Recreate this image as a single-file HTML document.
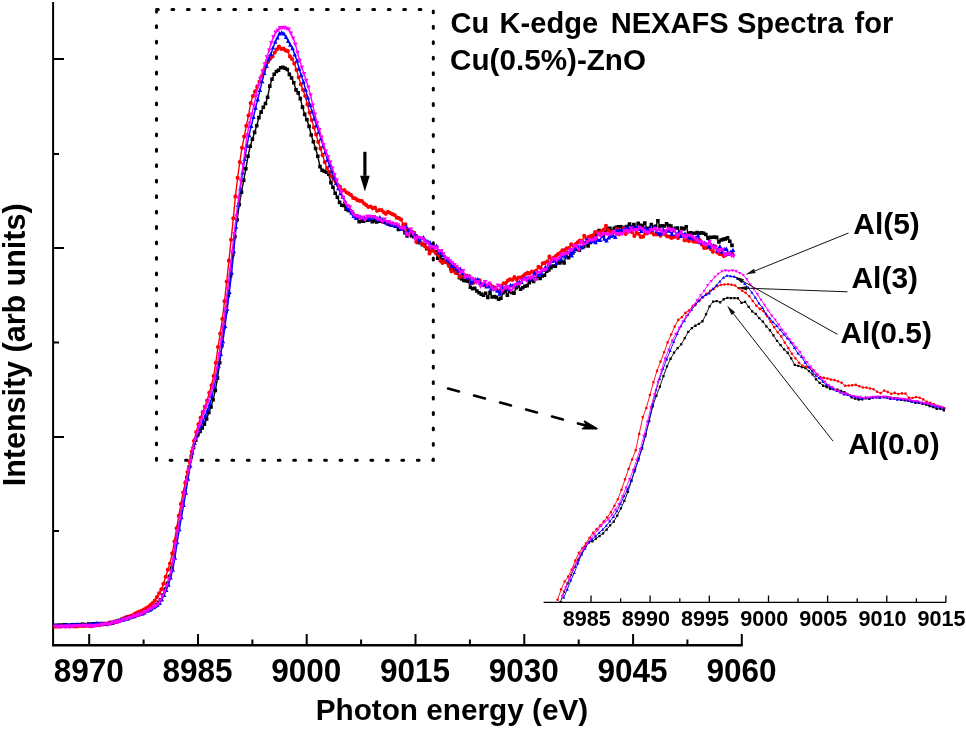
<!DOCTYPE html>
<html><head><meta charset="utf-8"><title>Cu K-edge NEXAFS Spectra</title>
<style>
html,body{margin:0;padding:0;background:#fff;}
body{width:966px;height:730px;overflow:hidden;}
svg{display:block;}
text{font-family:"Liberation Sans",Arial,Helvetica,sans-serif;font-weight:bold;fill:#000;}
</style></head><body>
<svg width="966" height="730" viewBox="0 0 966 730">
<rect width="966" height="730" fill="#fff"/>
<path d="M156.5 9.6H433.3V460.2H156.5V11.4" fill="none" stroke="#000" stroke-width="3" stroke-linecap="round" stroke-dasharray="1.8 13.65"/>
<g stroke="#000" stroke-width="2" fill="none">
<path d="M53.1 2V646"/><path d="M52 645.2H742.8" stroke-width="2.4"/>
<path d="M89.2 645v-11M198 645v-11M306.7 645v-11M415.5 645v-11M524.3 645v-11M633.1 645v-11M741.8 645v-11M143.6 645v-5.5M252.4 645v-5.5M361.1 645v-5.5M469.9 645v-5.5M578.7 645v-5.5M687.4 645v-5.5M53 59h11M53 154h6M53 248h11M53 342.5h6M53 437h11M53 531h6M53 626h11"/>
</g>
<g id="main">
<polyline points="54,625.5 56.2,625.5 58.4,625.3 60.5,625 62.7,625.1 64.9,624.9 67.1,625.1 69.3,625.5 71.4,624.9 73.6,624.8 75.8,625 78,624.9 80.2,624.8 82.3,624.4 84.5,624.6 86.7,624.8 88.9,624.1 91.1,624.3 93.2,623.7 95.4,623.8 97.6,623.6 99.8,624 102,623.6 104.1,623.9 106.3,623.8 108.5,623.5 110.7,622.5 112.9,622.6 115,622.2 117.2,621.6 119.4,620.5 121.6,620.2 123.8,619.4 125.9,618.7 128.1,618.6 130.3,617.3 132.5,616.8 134.7,616.3 136.8,615.1 139,614.4 141.2,613.6 143.4,612.7 145.6,611.3 147.7,610.7 149.9,609.9 152.1,607.7 154.3,607 156.5,605 158.6,602.3 160.8,599.7 163,595 165.2,589.1 167.4,583.4 169.5,576.5 171.7,568.1 173.9,554 176.1,539.4 178.3,527.1 180.4,515.2 182.6,502.7 184.8,490.2 187,477.3 189.2,467 191.3,456.6 193.5,447.6 195.7,440.1 197.9,434.7 200.1,431.4 202.2,428 204.4,424.1 206.6,419 208.8,412.5 211,406.9 213.1,399.7 215.3,390.4 217.5,378.1 219.7,362.8 221.9,345.6 224,327.2 226.2,311.5 228.4,295.2 230.6,275.6 232.8,254.6 234.9,236.4 237.1,219.7 239.3,204.5 241.5,192.1 243.7,180.3 245.8,168.8 248,156.3 250.2,146.2 252.4,139.1 254.6,132.4 256.7,125.7 258.9,117.6 261.1,112.1 263.3,107.2 265.5,103.5 267.6,97.3 269.8,86.1 272,79.3 274.2,74.3 276.4,71.5 278.5,70.3 280.7,67.8 282.9,67.4 285.1,68.2 287.3,69.5 289.4,74.4 291.6,78 293.8,82.7 296,89.9 298.2,92.9 300.3,98.6 302.5,107.1 304.7,114.4 306.9,119.7 309.1,126.4 311.2,135 313.4,141.8 315.6,148.5 317.8,156.3 320,166.6 322.1,170.2 324.3,171.2 326.5,172.3 328.7,174.2 330.9,182.6 333,187.2 335.2,193.3 337.4,197.3 339.6,202.4 341.8,205.3 343.9,205.4 346.1,209.1 348.3,210.5 350.5,211 352.7,213.5 354.8,216.2 357,217.8 359.2,221.8 361.4,221 363.6,221.3 365.7,220.3 367.9,220.1 370.1,219.4 372.3,221.7 374.5,220.6 376.6,221.9 378.8,221.3 381,221 383.2,221.9 385.4,222.4 387.5,223.7 389.7,224.1 391.9,224.9 394.1,224.7 396.3,226.1 398.4,229.4 400.6,227.9 402.8,228.6 405,232.6 407.2,236 409.3,232 411.5,235.8 413.7,236.6 415.9,236.1 418.1,242.5 420.2,242.8 422.4,244.7 424.6,244.8 426.8,248.7 429,248.4 431.1,250.7 433.3,250.4 435.5,251.7 437.7,258.2 439.9,256.4 442,259.7 444.2,261 446.4,262.1 448.6,264 450.8,268.2 452.9,268.5 455.1,270.8 457.3,273.2 459.5,277.6 461.7,278.9 463.8,280.5 466,280.7 468.2,281.1 470.4,287.2 472.6,288.8 474.7,288.2 476.9,291 479.1,292.8 481.3,294.1 483.5,295.2 485.6,293.2 487.8,297.4 490,292.6 492.2,297 494.4,296.6 496.5,297.4 498.7,299.2 500.9,298.2 503.1,292.7 505.3,291.1 507.4,295.2 509.6,291.1 511.8,292.4 514,293.2 516.2,287.6 518.3,285.8 520.5,289.3 522.7,287.8 524.9,286.2 527.1,285.6 529.2,282.7 531.4,280.2 533.6,281.5 535.8,278.6 538,275.9 540.1,278.5 542.3,275.9 544.5,275.3 546.7,271.1 548.9,270 551,267.6 553.2,266 555.4,266.2 557.6,262.6 559.8,263 561.9,261.4 564.1,263 566.3,254.9 568.5,257.7 570.7,254.4 572.8,253 575,248.9 577.2,249.4 579.4,250.3 581.6,247.4 583.7,246.5 585.9,244.5 588.1,246 590.3,242.4 592.5,237 594.6,238.5 596.8,234.6 599,230.6 601.2,234.2 603.4,236.2 605.5,232.4 607.7,228.9 609.9,228.2 612.1,231 614.3,228.2 616.4,227.3 618.6,226.8 620.8,226.7 623,228 625.2,227.4 627.3,226.6 629.5,224.1 631.7,227 633.9,224.6 636.1,227.9 638.2,223.3 640.4,225.4 642.6,225.6 644.8,223 647,228.8 649.1,228.3 651.3,224.6 653.5,227 655.7,226.3 657.9,220.7 660,226.2 662.2,225.7 664.4,226 666.6,223.9 668.8,225.6 670.9,226.1 673.1,229.2 675.3,228.2 677.5,228.1 679.7,231.6 681.8,228.1 684,228.9 686.2,226.7 688.4,233.6 690.6,232.9 692.7,233.3 694.9,233.2 697.1,232.6 699.3,233.2 701.5,232.7 703.6,233.3 705.8,234.5 708,238.1 710.2,237.4 712.4,237.2 714.5,237.1 716.7,237.4 718.9,241.9 721.1,240 723.3,239.4 725.4,238.9 727.6,237.9 729.8,241.3 732,245.4" fill="none" stroke="#000" stroke-width="1.4" stroke-linejoin="round"/>
<path d="M52.2 623.7h3.6v3.6h-3.6zM54.4 623.7h3.6v3.6h-3.6zM56.6 623.5h3.6v3.6h-3.6zM58.7 623.2h3.6v3.6h-3.6zM60.9 623.3h3.6v3.6h-3.6zM63.1 623.1h3.6v3.6h-3.6zM65.3 623.3h3.6v3.6h-3.6zM67.5 623.7h3.6v3.6h-3.6zM69.6 623.1h3.6v3.6h-3.6zM71.8 623h3.6v3.6h-3.6zM74 623.2h3.6v3.6h-3.6zM76.2 623.1h3.6v3.6h-3.6zM78.4 623h3.6v3.6h-3.6zM80.5 622.6h3.6v3.6h-3.6zM82.7 622.8h3.6v3.6h-3.6zM84.9 623h3.6v3.6h-3.6zM87.1 622.3h3.6v3.6h-3.6zM89.3 622.5h3.6v3.6h-3.6zM91.4 621.9h3.6v3.6h-3.6zM93.6 622h3.6v3.6h-3.6zM95.8 621.8h3.6v3.6h-3.6zM98 622.2h3.6v3.6h-3.6zM100.2 621.8h3.6v3.6h-3.6zM102.3 622.1h3.6v3.6h-3.6zM104.5 622h3.6v3.6h-3.6zM106.7 621.7h3.6v3.6h-3.6zM108.9 620.7h3.6v3.6h-3.6zM111.1 620.8h3.6v3.6h-3.6zM113.2 620.4h3.6v3.6h-3.6zM115.4 619.8h3.6v3.6h-3.6zM117.6 618.7h3.6v3.6h-3.6zM119.8 618.4h3.6v3.6h-3.6zM122 617.6h3.6v3.6h-3.6zM124.1 616.9h3.6v3.6h-3.6zM126.3 616.8h3.6v3.6h-3.6zM128.5 615.5h3.6v3.6h-3.6zM130.7 615h3.6v3.6h-3.6zM132.9 614.5h3.6v3.6h-3.6zM135 613.3h3.6v3.6h-3.6zM137.2 612.6h3.6v3.6h-3.6zM139.4 611.8h3.6v3.6h-3.6zM141.6 610.9h3.6v3.6h-3.6zM143.8 609.5h3.6v3.6h-3.6zM145.9 608.9h3.6v3.6h-3.6zM148.1 608.1h3.6v3.6h-3.6zM150.3 605.9h3.6v3.6h-3.6zM152.5 605.2h3.6v3.6h-3.6zM154.7 603.2h3.6v3.6h-3.6zM156.8 600.5h3.6v3.6h-3.6zM159 597.9h3.6v3.6h-3.6zM161.2 593.2h3.6v3.6h-3.6zM163.4 587.3h3.6v3.6h-3.6zM165.6 581.6h3.6v3.6h-3.6zM167.7 574.7h3.6v3.6h-3.6zM169.9 566.3h3.6v3.6h-3.6zM172.1 552.2h3.6v3.6h-3.6zM174.3 537.6h3.6v3.6h-3.6zM176.5 525.3h3.6v3.6h-3.6zM178.6 513.4h3.6v3.6h-3.6zM180.8 500.9h3.6v3.6h-3.6zM183 488.4h3.6v3.6h-3.6zM185.2 475.5h3.6v3.6h-3.6zM187.4 465.2h3.6v3.6h-3.6zM189.5 454.8h3.6v3.6h-3.6zM191.7 445.8h3.6v3.6h-3.6zM193.9 438.3h3.6v3.6h-3.6zM196.1 432.9h3.6v3.6h-3.6zM198.3 429.6h3.6v3.6h-3.6zM200.4 426.2h3.6v3.6h-3.6zM202.6 422.3h3.6v3.6h-3.6zM204.8 417.2h3.6v3.6h-3.6zM207 410.7h3.6v3.6h-3.6zM209.2 405.1h3.6v3.6h-3.6zM211.3 397.9h3.6v3.6h-3.6zM213.5 388.6h3.6v3.6h-3.6zM215.7 376.3h3.6v3.6h-3.6zM217.9 361h3.6v3.6h-3.6zM220.1 343.8h3.6v3.6h-3.6zM222.2 325.4h3.6v3.6h-3.6zM224.4 309.7h3.6v3.6h-3.6zM226.6 293.4h3.6v3.6h-3.6zM228.8 273.8h3.6v3.6h-3.6zM231 252.8h3.6v3.6h-3.6zM233.1 234.6h3.6v3.6h-3.6zM235.3 217.9h3.6v3.6h-3.6zM237.5 202.7h3.6v3.6h-3.6zM239.7 190.3h3.6v3.6h-3.6zM241.9 178.5h3.6v3.6h-3.6zM244 167h3.6v3.6h-3.6zM246.2 154.5h3.6v3.6h-3.6zM248.4 144.4h3.6v3.6h-3.6zM250.6 137.3h3.6v3.6h-3.6zM252.8 130.6h3.6v3.6h-3.6zM254.9 123.9h3.6v3.6h-3.6zM257.1 115.8h3.6v3.6h-3.6zM259.3 110.3h3.6v3.6h-3.6zM261.5 105.4h3.6v3.6h-3.6zM263.7 101.7h3.6v3.6h-3.6zM265.8 95.5h3.6v3.6h-3.6zM268 84.3h3.6v3.6h-3.6zM270.2 77.5h3.6v3.6h-3.6zM272.4 72.5h3.6v3.6h-3.6zM274.6 69.7h3.6v3.6h-3.6zM276.7 68.5h3.6v3.6h-3.6zM278.9 66h3.6v3.6h-3.6zM281.1 65.6h3.6v3.6h-3.6zM283.3 66.4h3.6v3.6h-3.6zM285.5 67.7h3.6v3.6h-3.6zM287.6 72.6h3.6v3.6h-3.6zM289.8 76.2h3.6v3.6h-3.6zM292 80.9h3.6v3.6h-3.6zM294.2 88.1h3.6v3.6h-3.6zM296.4 91.1h3.6v3.6h-3.6zM298.5 96.8h3.6v3.6h-3.6zM300.7 105.3h3.6v3.6h-3.6zM302.9 112.6h3.6v3.6h-3.6zM305.1 117.9h3.6v3.6h-3.6zM307.3 124.6h3.6v3.6h-3.6zM309.4 133.2h3.6v3.6h-3.6zM311.6 140h3.6v3.6h-3.6zM313.8 146.7h3.6v3.6h-3.6zM316 154.5h3.6v3.6h-3.6zM318.2 164.8h3.6v3.6h-3.6zM320.3 168.4h3.6v3.6h-3.6zM322.5 169.4h3.6v3.6h-3.6zM324.7 170.5h3.6v3.6h-3.6zM326.9 172.4h3.6v3.6h-3.6zM329.1 180.8h3.6v3.6h-3.6zM331.2 185.4h3.6v3.6h-3.6zM333.4 191.5h3.6v3.6h-3.6zM335.6 195.5h3.6v3.6h-3.6zM337.8 200.6h3.6v3.6h-3.6zM340 203.5h3.6v3.6h-3.6zM342.1 203.6h3.6v3.6h-3.6zM344.3 207.3h3.6v3.6h-3.6zM346.5 208.7h3.6v3.6h-3.6zM348.7 209.2h3.6v3.6h-3.6zM350.9 211.7h3.6v3.6h-3.6zM353 214.4h3.6v3.6h-3.6zM355.2 216h3.6v3.6h-3.6zM357.4 220h3.6v3.6h-3.6zM359.6 219.2h3.6v3.6h-3.6zM361.8 219.5h3.6v3.6h-3.6zM363.9 218.5h3.6v3.6h-3.6zM366.1 218.3h3.6v3.6h-3.6zM368.3 217.6h3.6v3.6h-3.6zM370.5 219.9h3.6v3.6h-3.6zM372.7 218.8h3.6v3.6h-3.6zM374.8 220.1h3.6v3.6h-3.6zM377 219.5h3.6v3.6h-3.6zM379.2 219.2h3.6v3.6h-3.6zM381.4 220.1h3.6v3.6h-3.6zM383.6 220.6h3.6v3.6h-3.6zM385.7 221.9h3.6v3.6h-3.6zM387.9 222.3h3.6v3.6h-3.6zM390.1 223.1h3.6v3.6h-3.6zM392.3 222.9h3.6v3.6h-3.6zM394.5 224.3h3.6v3.6h-3.6zM396.6 227.6h3.6v3.6h-3.6zM398.8 226.1h3.6v3.6h-3.6zM401 226.8h3.6v3.6h-3.6zM403.2 230.8h3.6v3.6h-3.6zM405.4 234.2h3.6v3.6h-3.6zM407.5 230.2h3.6v3.6h-3.6zM409.7 234h3.6v3.6h-3.6zM411.9 234.8h3.6v3.6h-3.6zM414.1 234.3h3.6v3.6h-3.6zM416.3 240.7h3.6v3.6h-3.6zM418.4 241h3.6v3.6h-3.6zM420.6 242.9h3.6v3.6h-3.6zM422.8 243h3.6v3.6h-3.6zM425 246.9h3.6v3.6h-3.6zM427.2 246.6h3.6v3.6h-3.6zM429.3 248.9h3.6v3.6h-3.6zM431.5 248.6h3.6v3.6h-3.6zM433.7 249.9h3.6v3.6h-3.6zM435.9 256.4h3.6v3.6h-3.6zM438.1 254.6h3.6v3.6h-3.6zM440.2 257.9h3.6v3.6h-3.6zM442.4 259.2h3.6v3.6h-3.6zM444.6 260.3h3.6v3.6h-3.6zM446.8 262.2h3.6v3.6h-3.6zM449 266.4h3.6v3.6h-3.6zM451.1 266.7h3.6v3.6h-3.6zM453.3 269h3.6v3.6h-3.6zM455.5 271.4h3.6v3.6h-3.6zM457.7 275.8h3.6v3.6h-3.6zM459.9 277.1h3.6v3.6h-3.6zM462 278.7h3.6v3.6h-3.6zM464.2 278.9h3.6v3.6h-3.6zM466.4 279.3h3.6v3.6h-3.6zM468.6 285.4h3.6v3.6h-3.6zM470.8 287h3.6v3.6h-3.6zM472.9 286.4h3.6v3.6h-3.6zM475.1 289.2h3.6v3.6h-3.6zM477.3 291h3.6v3.6h-3.6zM479.5 292.3h3.6v3.6h-3.6zM481.7 293.4h3.6v3.6h-3.6zM483.8 291.4h3.6v3.6h-3.6zM486 295.6h3.6v3.6h-3.6zM488.2 290.8h3.6v3.6h-3.6zM490.4 295.2h3.6v3.6h-3.6zM492.6 294.8h3.6v3.6h-3.6zM494.7 295.6h3.6v3.6h-3.6zM496.9 297.4h3.6v3.6h-3.6zM499.1 296.4h3.6v3.6h-3.6zM501.3 290.9h3.6v3.6h-3.6zM503.5 289.3h3.6v3.6h-3.6zM505.6 293.4h3.6v3.6h-3.6zM507.8 289.3h3.6v3.6h-3.6zM510 290.6h3.6v3.6h-3.6zM512.2 291.4h3.6v3.6h-3.6zM514.4 285.8h3.6v3.6h-3.6zM516.5 284h3.6v3.6h-3.6zM518.7 287.5h3.6v3.6h-3.6zM520.9 286h3.6v3.6h-3.6zM523.1 284.4h3.6v3.6h-3.6zM525.3 283.8h3.6v3.6h-3.6zM527.4 280.9h3.6v3.6h-3.6zM529.6 278.4h3.6v3.6h-3.6zM531.8 279.7h3.6v3.6h-3.6zM534 276.8h3.6v3.6h-3.6zM536.2 274.1h3.6v3.6h-3.6zM538.3 276.7h3.6v3.6h-3.6zM540.5 274.1h3.6v3.6h-3.6zM542.7 273.5h3.6v3.6h-3.6zM544.9 269.3h3.6v3.6h-3.6zM547.1 268.2h3.6v3.6h-3.6zM549.2 265.8h3.6v3.6h-3.6zM551.4 264.2h3.6v3.6h-3.6zM553.6 264.4h3.6v3.6h-3.6zM555.8 260.8h3.6v3.6h-3.6zM558 261.2h3.6v3.6h-3.6zM560.1 259.6h3.6v3.6h-3.6zM562.3 261.2h3.6v3.6h-3.6zM564.5 253.1h3.6v3.6h-3.6zM566.7 255.9h3.6v3.6h-3.6zM568.9 252.6h3.6v3.6h-3.6zM571 251.2h3.6v3.6h-3.6zM573.2 247.1h3.6v3.6h-3.6zM575.4 247.6h3.6v3.6h-3.6zM577.6 248.5h3.6v3.6h-3.6zM579.8 245.6h3.6v3.6h-3.6zM581.9 244.7h3.6v3.6h-3.6zM584.1 242.7h3.6v3.6h-3.6zM586.3 244.2h3.6v3.6h-3.6zM588.5 240.6h3.6v3.6h-3.6zM590.7 235.2h3.6v3.6h-3.6zM592.8 236.7h3.6v3.6h-3.6zM595 232.8h3.6v3.6h-3.6zM597.2 228.8h3.6v3.6h-3.6zM599.4 232.4h3.6v3.6h-3.6zM601.6 234.4h3.6v3.6h-3.6zM603.7 230.6h3.6v3.6h-3.6zM605.9 227.1h3.6v3.6h-3.6zM608.1 226.4h3.6v3.6h-3.6zM610.3 229.2h3.6v3.6h-3.6zM612.5 226.4h3.6v3.6h-3.6zM614.6 225.5h3.6v3.6h-3.6zM616.8 225h3.6v3.6h-3.6zM619 224.9h3.6v3.6h-3.6zM621.2 226.2h3.6v3.6h-3.6zM623.4 225.6h3.6v3.6h-3.6zM625.5 224.8h3.6v3.6h-3.6zM627.7 222.3h3.6v3.6h-3.6zM629.9 225.2h3.6v3.6h-3.6zM632.1 222.8h3.6v3.6h-3.6zM634.3 226.1h3.6v3.6h-3.6zM636.4 221.5h3.6v3.6h-3.6zM638.6 223.6h3.6v3.6h-3.6zM640.8 223.8h3.6v3.6h-3.6zM643 221.2h3.6v3.6h-3.6zM645.2 227h3.6v3.6h-3.6zM647.3 226.5h3.6v3.6h-3.6zM649.5 222.8h3.6v3.6h-3.6zM651.7 225.2h3.6v3.6h-3.6zM653.9 224.5h3.6v3.6h-3.6zM656.1 218.9h3.6v3.6h-3.6zM658.2 224.4h3.6v3.6h-3.6zM660.4 223.9h3.6v3.6h-3.6zM662.6 224.2h3.6v3.6h-3.6zM664.8 222.1h3.6v3.6h-3.6zM667 223.8h3.6v3.6h-3.6zM669.1 224.3h3.6v3.6h-3.6zM671.3 227.4h3.6v3.6h-3.6zM673.5 226.4h3.6v3.6h-3.6zM675.7 226.3h3.6v3.6h-3.6zM677.9 229.8h3.6v3.6h-3.6zM680 226.3h3.6v3.6h-3.6zM682.2 227.1h3.6v3.6h-3.6zM684.4 224.9h3.6v3.6h-3.6zM686.6 231.8h3.6v3.6h-3.6zM688.8 231.1h3.6v3.6h-3.6zM690.9 231.5h3.6v3.6h-3.6zM693.1 231.4h3.6v3.6h-3.6zM695.3 230.8h3.6v3.6h-3.6zM697.5 231.4h3.6v3.6h-3.6zM699.7 230.9h3.6v3.6h-3.6zM701.8 231.5h3.6v3.6h-3.6zM704 232.7h3.6v3.6h-3.6zM706.2 236.3h3.6v3.6h-3.6zM708.4 235.6h3.6v3.6h-3.6zM710.6 235.4h3.6v3.6h-3.6zM712.7 235.3h3.6v3.6h-3.6zM714.9 235.6h3.6v3.6h-3.6zM717.1 240.1h3.6v3.6h-3.6zM719.3 238.2h3.6v3.6h-3.6zM721.5 237.6h3.6v3.6h-3.6zM723.6 237.1h3.6v3.6h-3.6zM725.8 236.1h3.6v3.6h-3.6zM728 239.5h3.6v3.6h-3.6zM730.2 243.6h3.6v3.6h-3.6z" fill="#000"/>
<polyline points="54.5,626.5 56.7,626.5 58.9,626.4 61,626.5 63.2,625.9 65.4,626.3 67.6,626 69.8,626.5 71.9,625.9 74.1,626.3 76.3,626.5 78.5,625.9 80.7,625.7 82.8,625.9 85,625.8 87.2,625.4 89.4,625.8 91.6,626.2 93.7,625.4 95.9,625.2 98.1,624.8 100.3,625 102.5,624.2 104.6,623.9 106.8,624.3 109,623.2 111.2,623.3 113.4,622.7 115.5,621.5 117.7,620.9 119.9,620.5 122.1,619.1 124.3,618.1 126.4,617 128.6,616.6 130.8,616.1 133,615.1 135.2,613.5 137.3,612.6 139.5,611.7 141.7,610.9 143.9,609.6 146.1,608.4 148.2,607 150.4,605.1 152.6,603.2 154.8,600.7 157,597 159.1,593.3 161.3,589.4 163.5,583.8 165.7,576.8 167.9,569.7 170,563.5 172.2,553.3 174.4,541.5 176.6,528.3 178.8,515.9 180.9,504 183.1,492.7 185.3,482.8 187.5,472.1 189.7,461.7 191.8,451.5 194,441.1 196.2,432.1 198.4,424.3 200.6,417.8 202.7,412.2 204.9,406.7 207.1,400.6 209.3,392.8 211.5,385.4 213.6,376 215.8,362.8 218,347.1 220.2,333.7 222.4,318.9 224.5,301.2 226.7,281.5 228.9,260.7 231.1,239.8 233.3,218.3 235.4,196.4 237.6,177.8 239.8,162 242,147.8 244.2,136.6 246.3,125.9 248.5,115.5 250.7,103.1 252.9,96.1 255.1,91.4 257.2,86.8 259.4,81.8 261.6,76.3 263.8,70.7 266,64.5 268.1,61.8 270.3,58.6 272.5,56.5 274.7,52.6 276.9,49.3 279,46.7 281.2,49 283.4,48.7 285.6,50.4 287.8,51.2 289.9,56.4 292.1,59.1 294.3,63.6 296.5,69.9 298.7,77.3 300.8,84.3 303,89.8 305.2,96.1 307.4,104.3 309.6,112.7 311.7,120.1 313.9,127.4 316.1,134.6 318.3,141.9 320.5,148.6 322.6,155.2 324.8,162.2 327,168.1 329.2,171.8 331.4,176.1 333.5,179.1 335.7,181.8 337.9,185.2 340.1,186.8 342.3,190.6 344.4,190.1 346.6,192.5 348.8,193.6 351,195.1 353.2,197.9 355.3,198.5 357.5,200.2 359.7,200.8 361.9,201.2 364.1,203.5 366.2,205 368.4,207 370.6,206.5 372.8,208.3 375,207.7 377.1,210.8 379.3,210 381.5,210.1 383.7,212.3 385.9,213.8 388,211.9 390.2,213 392.4,214.2 394.6,215 396.8,217.7 398.9,218.2 401.1,219.7 403.3,224.5 405.5,224.4 407.7,229.5 409.8,229.8 412,231.8 414.2,232.8 416.4,241.9 418.6,239.8 420.7,242.8 422.9,244.2 425.1,246.5 427.3,248.1 429.5,253.4 431.6,249.7 433.8,250.5 436,253.5 438.2,254.8 440.4,260.8 442.5,262.9 444.7,261.4 446.9,262.5 449.1,266.2 451.3,271.3 453.4,265 455.6,273 457.8,271.5 460,276.9 462.2,274.2 464.3,276.8 466.5,275.6 468.7,277.6 470.9,283.1 473.1,283 475.2,281.6 477.4,281.5 479.6,280.4 481.8,283.9 484,285.2 486.1,285.7 488.3,286.2 490.5,284.8 492.7,287.2 494.9,287.6 497,290.2 499.2,290.9 501.4,286 503.6,283.3 505.8,283.1 507.9,280.6 510.1,279.4 512.3,279.8 514.5,277.2 516.7,279.7 518.8,277.6 521,277.6 523.2,276 525.4,274.1 527.6,272.8 529.7,273.3 531.9,271.7 534.1,272.2 536.3,270.6 538.5,266.8 540.6,267.9 542.8,263.4 545,262.9 547.2,261.7 549.4,256.7 551.5,259.3 553.7,257.9 555.9,256 558.1,254.1 560.3,252.8 562.4,250.3 564.6,250.2 566.8,248.3 569,248.2 571.2,244.4 573.3,245.8 575.5,244.3 577.7,242.4 579.9,240.6 582.1,241.2 584.2,235.8 586.4,238.7 588.6,237.2 590.8,236.2 593,235.3 595.1,232.2 597.3,232 599.5,232.7 601.7,231.1 603.9,229.6 606,225.8 608.2,230.1 610.4,232.1 612.6,232.7 614.8,231.8 616.9,229 619.1,234.3 621.3,232.6 623.5,228.3 625.7,233.9 627.8,230.5 630,230.9 632.2,232.2 634.4,235.9 636.6,232.8 638.7,234.1 640.9,236.9 643.1,236.7 645.3,233.5 647.5,233.2 649.6,231.3 651.8,232.4 654,234.5 656.2,234.5 658.4,234 660.5,235.7 662.7,232.6 664.9,234.4 667.1,236.3 669.3,236.5 671.4,237.9 673.6,237.1 675.8,236.3 678,238.1 680.2,236.1 682.3,235.5 684.5,240.3 686.7,239.7 688.9,241.1 691.1,238.1 693.2,241.4 695.4,241.7 697.6,242 699.8,240.2 702,244.7 704.1,247.9 706.3,247.8 708.5,246.8 710.7,249.1 712.9,251.8 715,246.3 717.2,252.3 719.4,253.9 721.6,254.2 723.8,256.1 725.9,255 728.1,253.4 730.3,253.3 732.5,254.1" fill="none" stroke="#f00" stroke-width="1.4" stroke-linejoin="round"/>
<path d="M52.4 626.5a2.1 2.1 0 1 0 4.2 0a2.1 2.1 0 1 0 -4.2 0zM54.6 626.5a2.1 2.1 0 1 0 4.2 0a2.1 2.1 0 1 0 -4.2 0zM56.8 626.4a2.1 2.1 0 1 0 4.2 0a2.1 2.1 0 1 0 -4.2 0zM58.9 626.5a2.1 2.1 0 1 0 4.2 0a2.1 2.1 0 1 0 -4.2 0zM61.1 625.9a2.1 2.1 0 1 0 4.2 0a2.1 2.1 0 1 0 -4.2 0zM63.3 626.3a2.1 2.1 0 1 0 4.2 0a2.1 2.1 0 1 0 -4.2 0zM65.5 626a2.1 2.1 0 1 0 4.2 0a2.1 2.1 0 1 0 -4.2 0zM67.7 626.5a2.1 2.1 0 1 0 4.2 0a2.1 2.1 0 1 0 -4.2 0zM69.8 625.9a2.1 2.1 0 1 0 4.2 0a2.1 2.1 0 1 0 -4.2 0zM72 626.3a2.1 2.1 0 1 0 4.2 0a2.1 2.1 0 1 0 -4.2 0zM74.2 626.5a2.1 2.1 0 1 0 4.2 0a2.1 2.1 0 1 0 -4.2 0zM76.4 625.9a2.1 2.1 0 1 0 4.2 0a2.1 2.1 0 1 0 -4.2 0zM78.6 625.7a2.1 2.1 0 1 0 4.2 0a2.1 2.1 0 1 0 -4.2 0zM80.7 625.9a2.1 2.1 0 1 0 4.2 0a2.1 2.1 0 1 0 -4.2 0zM82.9 625.8a2.1 2.1 0 1 0 4.2 0a2.1 2.1 0 1 0 -4.2 0zM85.1 625.4a2.1 2.1 0 1 0 4.2 0a2.1 2.1 0 1 0 -4.2 0zM87.3 625.8a2.1 2.1 0 1 0 4.2 0a2.1 2.1 0 1 0 -4.2 0zM89.5 626.2a2.1 2.1 0 1 0 4.2 0a2.1 2.1 0 1 0 -4.2 0zM91.6 625.4a2.1 2.1 0 1 0 4.2 0a2.1 2.1 0 1 0 -4.2 0zM93.8 625.2a2.1 2.1 0 1 0 4.2 0a2.1 2.1 0 1 0 -4.2 0zM96 624.8a2.1 2.1 0 1 0 4.2 0a2.1 2.1 0 1 0 -4.2 0zM98.2 625a2.1 2.1 0 1 0 4.2 0a2.1 2.1 0 1 0 -4.2 0zM100.4 624.2a2.1 2.1 0 1 0 4.2 0a2.1 2.1 0 1 0 -4.2 0zM102.5 623.9a2.1 2.1 0 1 0 4.2 0a2.1 2.1 0 1 0 -4.2 0zM104.7 624.3a2.1 2.1 0 1 0 4.2 0a2.1 2.1 0 1 0 -4.2 0zM106.9 623.2a2.1 2.1 0 1 0 4.2 0a2.1 2.1 0 1 0 -4.2 0zM109.1 623.3a2.1 2.1 0 1 0 4.2 0a2.1 2.1 0 1 0 -4.2 0zM111.3 622.7a2.1 2.1 0 1 0 4.2 0a2.1 2.1 0 1 0 -4.2 0zM113.4 621.5a2.1 2.1 0 1 0 4.2 0a2.1 2.1 0 1 0 -4.2 0zM115.6 620.9a2.1 2.1 0 1 0 4.2 0a2.1 2.1 0 1 0 -4.2 0zM117.8 620.5a2.1 2.1 0 1 0 4.2 0a2.1 2.1 0 1 0 -4.2 0zM120 619.1a2.1 2.1 0 1 0 4.2 0a2.1 2.1 0 1 0 -4.2 0zM122.2 618.1a2.1 2.1 0 1 0 4.2 0a2.1 2.1 0 1 0 -4.2 0zM124.3 617a2.1 2.1 0 1 0 4.2 0a2.1 2.1 0 1 0 -4.2 0zM126.5 616.6a2.1 2.1 0 1 0 4.2 0a2.1 2.1 0 1 0 -4.2 0zM128.7 616.1a2.1 2.1 0 1 0 4.2 0a2.1 2.1 0 1 0 -4.2 0zM130.9 615.1a2.1 2.1 0 1 0 4.2 0a2.1 2.1 0 1 0 -4.2 0zM133.1 613.5a2.1 2.1 0 1 0 4.2 0a2.1 2.1 0 1 0 -4.2 0zM135.2 612.6a2.1 2.1 0 1 0 4.2 0a2.1 2.1 0 1 0 -4.2 0zM137.4 611.7a2.1 2.1 0 1 0 4.2 0a2.1 2.1 0 1 0 -4.2 0zM139.6 610.9a2.1 2.1 0 1 0 4.2 0a2.1 2.1 0 1 0 -4.2 0zM141.8 609.6a2.1 2.1 0 1 0 4.2 0a2.1 2.1 0 1 0 -4.2 0zM144 608.4a2.1 2.1 0 1 0 4.2 0a2.1 2.1 0 1 0 -4.2 0zM146.1 607a2.1 2.1 0 1 0 4.2 0a2.1 2.1 0 1 0 -4.2 0zM148.3 605.1a2.1 2.1 0 1 0 4.2 0a2.1 2.1 0 1 0 -4.2 0zM150.5 603.2a2.1 2.1 0 1 0 4.2 0a2.1 2.1 0 1 0 -4.2 0zM152.7 600.7a2.1 2.1 0 1 0 4.2 0a2.1 2.1 0 1 0 -4.2 0zM154.9 597a2.1 2.1 0 1 0 4.2 0a2.1 2.1 0 1 0 -4.2 0zM157 593.3a2.1 2.1 0 1 0 4.2 0a2.1 2.1 0 1 0 -4.2 0zM159.2 589.4a2.1 2.1 0 1 0 4.2 0a2.1 2.1 0 1 0 -4.2 0zM161.4 583.8a2.1 2.1 0 1 0 4.2 0a2.1 2.1 0 1 0 -4.2 0zM163.6 576.8a2.1 2.1 0 1 0 4.2 0a2.1 2.1 0 1 0 -4.2 0zM165.8 569.7a2.1 2.1 0 1 0 4.2 0a2.1 2.1 0 1 0 -4.2 0zM167.9 563.5a2.1 2.1 0 1 0 4.2 0a2.1 2.1 0 1 0 -4.2 0zM170.1 553.3a2.1 2.1 0 1 0 4.2 0a2.1 2.1 0 1 0 -4.2 0zM172.3 541.5a2.1 2.1 0 1 0 4.2 0a2.1 2.1 0 1 0 -4.2 0zM174.5 528.3a2.1 2.1 0 1 0 4.2 0a2.1 2.1 0 1 0 -4.2 0zM176.7 515.9a2.1 2.1 0 1 0 4.2 0a2.1 2.1 0 1 0 -4.2 0zM178.8 504a2.1 2.1 0 1 0 4.2 0a2.1 2.1 0 1 0 -4.2 0zM181 492.7a2.1 2.1 0 1 0 4.2 0a2.1 2.1 0 1 0 -4.2 0zM183.2 482.8a2.1 2.1 0 1 0 4.2 0a2.1 2.1 0 1 0 -4.2 0zM185.4 472.1a2.1 2.1 0 1 0 4.2 0a2.1 2.1 0 1 0 -4.2 0zM187.6 461.7a2.1 2.1 0 1 0 4.2 0a2.1 2.1 0 1 0 -4.2 0zM189.7 451.5a2.1 2.1 0 1 0 4.2 0a2.1 2.1 0 1 0 -4.2 0zM191.9 441.1a2.1 2.1 0 1 0 4.2 0a2.1 2.1 0 1 0 -4.2 0zM194.1 432.1a2.1 2.1 0 1 0 4.2 0a2.1 2.1 0 1 0 -4.2 0zM196.3 424.3a2.1 2.1 0 1 0 4.2 0a2.1 2.1 0 1 0 -4.2 0zM198.5 417.8a2.1 2.1 0 1 0 4.2 0a2.1 2.1 0 1 0 -4.2 0zM200.6 412.2a2.1 2.1 0 1 0 4.2 0a2.1 2.1 0 1 0 -4.2 0zM202.8 406.7a2.1 2.1 0 1 0 4.2 0a2.1 2.1 0 1 0 -4.2 0zM205 400.6a2.1 2.1 0 1 0 4.2 0a2.1 2.1 0 1 0 -4.2 0zM207.2 392.8a2.1 2.1 0 1 0 4.2 0a2.1 2.1 0 1 0 -4.2 0zM209.4 385.4a2.1 2.1 0 1 0 4.2 0a2.1 2.1 0 1 0 -4.2 0zM211.5 376a2.1 2.1 0 1 0 4.2 0a2.1 2.1 0 1 0 -4.2 0zM213.7 362.8a2.1 2.1 0 1 0 4.2 0a2.1 2.1 0 1 0 -4.2 0zM215.9 347.1a2.1 2.1 0 1 0 4.2 0a2.1 2.1 0 1 0 -4.2 0zM218.1 333.7a2.1 2.1 0 1 0 4.2 0a2.1 2.1 0 1 0 -4.2 0zM220.3 318.9a2.1 2.1 0 1 0 4.2 0a2.1 2.1 0 1 0 -4.2 0zM222.4 301.2a2.1 2.1 0 1 0 4.2 0a2.1 2.1 0 1 0 -4.2 0zM224.6 281.5a2.1 2.1 0 1 0 4.2 0a2.1 2.1 0 1 0 -4.2 0zM226.8 260.7a2.1 2.1 0 1 0 4.2 0a2.1 2.1 0 1 0 -4.2 0zM229 239.8a2.1 2.1 0 1 0 4.2 0a2.1 2.1 0 1 0 -4.2 0zM231.2 218.3a2.1 2.1 0 1 0 4.2 0a2.1 2.1 0 1 0 -4.2 0zM233.3 196.4a2.1 2.1 0 1 0 4.2 0a2.1 2.1 0 1 0 -4.2 0zM235.5 177.8a2.1 2.1 0 1 0 4.2 0a2.1 2.1 0 1 0 -4.2 0zM237.7 162a2.1 2.1 0 1 0 4.2 0a2.1 2.1 0 1 0 -4.2 0zM239.9 147.8a2.1 2.1 0 1 0 4.2 0a2.1 2.1 0 1 0 -4.2 0zM242.1 136.6a2.1 2.1 0 1 0 4.2 0a2.1 2.1 0 1 0 -4.2 0zM244.2 125.9a2.1 2.1 0 1 0 4.2 0a2.1 2.1 0 1 0 -4.2 0zM246.4 115.5a2.1 2.1 0 1 0 4.2 0a2.1 2.1 0 1 0 -4.2 0zM248.6 103.1a2.1 2.1 0 1 0 4.2 0a2.1 2.1 0 1 0 -4.2 0zM250.8 96.1a2.1 2.1 0 1 0 4.2 0a2.1 2.1 0 1 0 -4.2 0zM253 91.4a2.1 2.1 0 1 0 4.2 0a2.1 2.1 0 1 0 -4.2 0zM255.1 86.8a2.1 2.1 0 1 0 4.2 0a2.1 2.1 0 1 0 -4.2 0zM257.3 81.8a2.1 2.1 0 1 0 4.2 0a2.1 2.1 0 1 0 -4.2 0zM259.5 76.3a2.1 2.1 0 1 0 4.2 0a2.1 2.1 0 1 0 -4.2 0zM261.7 70.7a2.1 2.1 0 1 0 4.2 0a2.1 2.1 0 1 0 -4.2 0zM263.9 64.5a2.1 2.1 0 1 0 4.2 0a2.1 2.1 0 1 0 -4.2 0zM266 61.8a2.1 2.1 0 1 0 4.2 0a2.1 2.1 0 1 0 -4.2 0zM268.2 58.6a2.1 2.1 0 1 0 4.2 0a2.1 2.1 0 1 0 -4.2 0zM270.4 56.5a2.1 2.1 0 1 0 4.2 0a2.1 2.1 0 1 0 -4.2 0zM272.6 52.6a2.1 2.1 0 1 0 4.2 0a2.1 2.1 0 1 0 -4.2 0zM274.8 49.3a2.1 2.1 0 1 0 4.2 0a2.1 2.1 0 1 0 -4.2 0zM276.9 46.7a2.1 2.1 0 1 0 4.2 0a2.1 2.1 0 1 0 -4.2 0zM279.1 49a2.1 2.1 0 1 0 4.2 0a2.1 2.1 0 1 0 -4.2 0zM281.3 48.7a2.1 2.1 0 1 0 4.2 0a2.1 2.1 0 1 0 -4.2 0zM283.5 50.4a2.1 2.1 0 1 0 4.2 0a2.1 2.1 0 1 0 -4.2 0zM285.7 51.2a2.1 2.1 0 1 0 4.2 0a2.1 2.1 0 1 0 -4.2 0zM287.8 56.4a2.1 2.1 0 1 0 4.2 0a2.1 2.1 0 1 0 -4.2 0zM290 59.1a2.1 2.1 0 1 0 4.2 0a2.1 2.1 0 1 0 -4.2 0zM292.2 63.6a2.1 2.1 0 1 0 4.2 0a2.1 2.1 0 1 0 -4.2 0zM294.4 69.9a2.1 2.1 0 1 0 4.2 0a2.1 2.1 0 1 0 -4.2 0zM296.6 77.3a2.1 2.1 0 1 0 4.2 0a2.1 2.1 0 1 0 -4.2 0zM298.7 84.3a2.1 2.1 0 1 0 4.2 0a2.1 2.1 0 1 0 -4.2 0zM300.9 89.8a2.1 2.1 0 1 0 4.2 0a2.1 2.1 0 1 0 -4.2 0zM303.1 96.1a2.1 2.1 0 1 0 4.2 0a2.1 2.1 0 1 0 -4.2 0zM305.3 104.3a2.1 2.1 0 1 0 4.2 0a2.1 2.1 0 1 0 -4.2 0zM307.5 112.7a2.1 2.1 0 1 0 4.2 0a2.1 2.1 0 1 0 -4.2 0zM309.6 120.1a2.1 2.1 0 1 0 4.2 0a2.1 2.1 0 1 0 -4.2 0zM311.8 127.4a2.1 2.1 0 1 0 4.2 0a2.1 2.1 0 1 0 -4.2 0zM314 134.6a2.1 2.1 0 1 0 4.2 0a2.1 2.1 0 1 0 -4.2 0zM316.2 141.9a2.1 2.1 0 1 0 4.2 0a2.1 2.1 0 1 0 -4.2 0zM318.4 148.6a2.1 2.1 0 1 0 4.2 0a2.1 2.1 0 1 0 -4.2 0zM320.5 155.2a2.1 2.1 0 1 0 4.2 0a2.1 2.1 0 1 0 -4.2 0zM322.7 162.2a2.1 2.1 0 1 0 4.2 0a2.1 2.1 0 1 0 -4.2 0zM324.9 168.1a2.1 2.1 0 1 0 4.2 0a2.1 2.1 0 1 0 -4.2 0zM327.1 171.8a2.1 2.1 0 1 0 4.2 0a2.1 2.1 0 1 0 -4.2 0zM329.3 176.1a2.1 2.1 0 1 0 4.2 0a2.1 2.1 0 1 0 -4.2 0zM331.4 179.1a2.1 2.1 0 1 0 4.2 0a2.1 2.1 0 1 0 -4.2 0zM333.6 181.8a2.1 2.1 0 1 0 4.2 0a2.1 2.1 0 1 0 -4.2 0zM335.8 185.2a2.1 2.1 0 1 0 4.2 0a2.1 2.1 0 1 0 -4.2 0zM338 186.8a2.1 2.1 0 1 0 4.2 0a2.1 2.1 0 1 0 -4.2 0zM340.2 190.6a2.1 2.1 0 1 0 4.2 0a2.1 2.1 0 1 0 -4.2 0zM342.3 190.1a2.1 2.1 0 1 0 4.2 0a2.1 2.1 0 1 0 -4.2 0zM344.5 192.5a2.1 2.1 0 1 0 4.2 0a2.1 2.1 0 1 0 -4.2 0zM346.7 193.6a2.1 2.1 0 1 0 4.2 0a2.1 2.1 0 1 0 -4.2 0zM348.9 195.1a2.1 2.1 0 1 0 4.2 0a2.1 2.1 0 1 0 -4.2 0zM351.1 197.9a2.1 2.1 0 1 0 4.2 0a2.1 2.1 0 1 0 -4.2 0zM353.2 198.5a2.1 2.1 0 1 0 4.2 0a2.1 2.1 0 1 0 -4.2 0zM355.4 200.2a2.1 2.1 0 1 0 4.2 0a2.1 2.1 0 1 0 -4.2 0zM357.6 200.8a2.1 2.1 0 1 0 4.2 0a2.1 2.1 0 1 0 -4.2 0zM359.8 201.2a2.1 2.1 0 1 0 4.2 0a2.1 2.1 0 1 0 -4.2 0zM362 203.5a2.1 2.1 0 1 0 4.2 0a2.1 2.1 0 1 0 -4.2 0zM364.1 205a2.1 2.1 0 1 0 4.2 0a2.1 2.1 0 1 0 -4.2 0zM366.3 207a2.1 2.1 0 1 0 4.2 0a2.1 2.1 0 1 0 -4.2 0zM368.5 206.5a2.1 2.1 0 1 0 4.2 0a2.1 2.1 0 1 0 -4.2 0zM370.7 208.3a2.1 2.1 0 1 0 4.2 0a2.1 2.1 0 1 0 -4.2 0zM372.9 207.7a2.1 2.1 0 1 0 4.2 0a2.1 2.1 0 1 0 -4.2 0zM375 210.8a2.1 2.1 0 1 0 4.2 0a2.1 2.1 0 1 0 -4.2 0zM377.2 210a2.1 2.1 0 1 0 4.2 0a2.1 2.1 0 1 0 -4.2 0zM379.4 210.1a2.1 2.1 0 1 0 4.2 0a2.1 2.1 0 1 0 -4.2 0zM381.6 212.3a2.1 2.1 0 1 0 4.2 0a2.1 2.1 0 1 0 -4.2 0zM383.8 213.8a2.1 2.1 0 1 0 4.2 0a2.1 2.1 0 1 0 -4.2 0zM385.9 211.9a2.1 2.1 0 1 0 4.2 0a2.1 2.1 0 1 0 -4.2 0zM388.1 213a2.1 2.1 0 1 0 4.2 0a2.1 2.1 0 1 0 -4.2 0zM390.3 214.2a2.1 2.1 0 1 0 4.2 0a2.1 2.1 0 1 0 -4.2 0zM392.5 215a2.1 2.1 0 1 0 4.2 0a2.1 2.1 0 1 0 -4.2 0zM394.7 217.7a2.1 2.1 0 1 0 4.2 0a2.1 2.1 0 1 0 -4.2 0zM396.8 218.2a2.1 2.1 0 1 0 4.2 0a2.1 2.1 0 1 0 -4.2 0zM399 219.7a2.1 2.1 0 1 0 4.2 0a2.1 2.1 0 1 0 -4.2 0zM401.2 224.5a2.1 2.1 0 1 0 4.2 0a2.1 2.1 0 1 0 -4.2 0zM403.4 224.4a2.1 2.1 0 1 0 4.2 0a2.1 2.1 0 1 0 -4.2 0zM405.6 229.5a2.1 2.1 0 1 0 4.2 0a2.1 2.1 0 1 0 -4.2 0zM407.7 229.8a2.1 2.1 0 1 0 4.2 0a2.1 2.1 0 1 0 -4.2 0zM409.9 231.8a2.1 2.1 0 1 0 4.2 0a2.1 2.1 0 1 0 -4.2 0zM412.1 232.8a2.1 2.1 0 1 0 4.2 0a2.1 2.1 0 1 0 -4.2 0zM414.3 241.9a2.1 2.1 0 1 0 4.2 0a2.1 2.1 0 1 0 -4.2 0zM416.5 239.8a2.1 2.1 0 1 0 4.2 0a2.1 2.1 0 1 0 -4.2 0zM418.6 242.8a2.1 2.1 0 1 0 4.2 0a2.1 2.1 0 1 0 -4.2 0zM420.8 244.2a2.1 2.1 0 1 0 4.2 0a2.1 2.1 0 1 0 -4.2 0zM423 246.5a2.1 2.1 0 1 0 4.2 0a2.1 2.1 0 1 0 -4.2 0zM425.2 248.1a2.1 2.1 0 1 0 4.2 0a2.1 2.1 0 1 0 -4.2 0zM427.4 253.4a2.1 2.1 0 1 0 4.2 0a2.1 2.1 0 1 0 -4.2 0zM429.5 249.7a2.1 2.1 0 1 0 4.2 0a2.1 2.1 0 1 0 -4.2 0zM431.7 250.5a2.1 2.1 0 1 0 4.2 0a2.1 2.1 0 1 0 -4.2 0zM433.9 253.5a2.1 2.1 0 1 0 4.2 0a2.1 2.1 0 1 0 -4.2 0zM436.1 254.8a2.1 2.1 0 1 0 4.2 0a2.1 2.1 0 1 0 -4.2 0zM438.3 260.8a2.1 2.1 0 1 0 4.2 0a2.1 2.1 0 1 0 -4.2 0zM440.4 262.9a2.1 2.1 0 1 0 4.2 0a2.1 2.1 0 1 0 -4.2 0zM442.6 261.4a2.1 2.1 0 1 0 4.2 0a2.1 2.1 0 1 0 -4.2 0zM444.8 262.5a2.1 2.1 0 1 0 4.2 0a2.1 2.1 0 1 0 -4.2 0zM447 266.2a2.1 2.1 0 1 0 4.2 0a2.1 2.1 0 1 0 -4.2 0zM449.2 271.3a2.1 2.1 0 1 0 4.2 0a2.1 2.1 0 1 0 -4.2 0zM451.3 265a2.1 2.1 0 1 0 4.2 0a2.1 2.1 0 1 0 -4.2 0zM453.5 273a2.1 2.1 0 1 0 4.2 0a2.1 2.1 0 1 0 -4.2 0zM455.7 271.5a2.1 2.1 0 1 0 4.2 0a2.1 2.1 0 1 0 -4.2 0zM457.9 276.9a2.1 2.1 0 1 0 4.2 0a2.1 2.1 0 1 0 -4.2 0zM460.1 274.2a2.1 2.1 0 1 0 4.2 0a2.1 2.1 0 1 0 -4.2 0zM462.2 276.8a2.1 2.1 0 1 0 4.2 0a2.1 2.1 0 1 0 -4.2 0zM464.4 275.6a2.1 2.1 0 1 0 4.2 0a2.1 2.1 0 1 0 -4.2 0zM466.6 277.6a2.1 2.1 0 1 0 4.2 0a2.1 2.1 0 1 0 -4.2 0zM468.8 283.1a2.1 2.1 0 1 0 4.2 0a2.1 2.1 0 1 0 -4.2 0zM471 283a2.1 2.1 0 1 0 4.2 0a2.1 2.1 0 1 0 -4.2 0zM473.1 281.6a2.1 2.1 0 1 0 4.2 0a2.1 2.1 0 1 0 -4.2 0zM475.3 281.5a2.1 2.1 0 1 0 4.2 0a2.1 2.1 0 1 0 -4.2 0zM477.5 280.4a2.1 2.1 0 1 0 4.2 0a2.1 2.1 0 1 0 -4.2 0zM479.7 283.9a2.1 2.1 0 1 0 4.2 0a2.1 2.1 0 1 0 -4.2 0zM481.9 285.2a2.1 2.1 0 1 0 4.2 0a2.1 2.1 0 1 0 -4.2 0zM484 285.7a2.1 2.1 0 1 0 4.2 0a2.1 2.1 0 1 0 -4.2 0zM486.2 286.2a2.1 2.1 0 1 0 4.2 0a2.1 2.1 0 1 0 -4.2 0zM488.4 284.8a2.1 2.1 0 1 0 4.2 0a2.1 2.1 0 1 0 -4.2 0zM490.6 287.2a2.1 2.1 0 1 0 4.2 0a2.1 2.1 0 1 0 -4.2 0zM492.8 287.6a2.1 2.1 0 1 0 4.2 0a2.1 2.1 0 1 0 -4.2 0zM494.9 290.2a2.1 2.1 0 1 0 4.2 0a2.1 2.1 0 1 0 -4.2 0zM497.1 290.9a2.1 2.1 0 1 0 4.2 0a2.1 2.1 0 1 0 -4.2 0zM499.3 286a2.1 2.1 0 1 0 4.2 0a2.1 2.1 0 1 0 -4.2 0zM501.5 283.3a2.1 2.1 0 1 0 4.2 0a2.1 2.1 0 1 0 -4.2 0zM503.7 283.1a2.1 2.1 0 1 0 4.2 0a2.1 2.1 0 1 0 -4.2 0zM505.8 280.6a2.1 2.1 0 1 0 4.2 0a2.1 2.1 0 1 0 -4.2 0zM508 279.4a2.1 2.1 0 1 0 4.2 0a2.1 2.1 0 1 0 -4.2 0zM510.2 279.8a2.1 2.1 0 1 0 4.2 0a2.1 2.1 0 1 0 -4.2 0zM512.4 277.2a2.1 2.1 0 1 0 4.2 0a2.1 2.1 0 1 0 -4.2 0zM514.6 279.7a2.1 2.1 0 1 0 4.2 0a2.1 2.1 0 1 0 -4.2 0zM516.7 277.6a2.1 2.1 0 1 0 4.2 0a2.1 2.1 0 1 0 -4.2 0zM518.9 277.6a2.1 2.1 0 1 0 4.2 0a2.1 2.1 0 1 0 -4.2 0zM521.1 276a2.1 2.1 0 1 0 4.2 0a2.1 2.1 0 1 0 -4.2 0zM523.3 274.1a2.1 2.1 0 1 0 4.2 0a2.1 2.1 0 1 0 -4.2 0zM525.5 272.8a2.1 2.1 0 1 0 4.2 0a2.1 2.1 0 1 0 -4.2 0zM527.6 273.3a2.1 2.1 0 1 0 4.2 0a2.1 2.1 0 1 0 -4.2 0zM529.8 271.7a2.1 2.1 0 1 0 4.2 0a2.1 2.1 0 1 0 -4.2 0zM532 272.2a2.1 2.1 0 1 0 4.2 0a2.1 2.1 0 1 0 -4.2 0zM534.2 270.6a2.1 2.1 0 1 0 4.2 0a2.1 2.1 0 1 0 -4.2 0zM536.4 266.8a2.1 2.1 0 1 0 4.2 0a2.1 2.1 0 1 0 -4.2 0zM538.5 267.9a2.1 2.1 0 1 0 4.2 0a2.1 2.1 0 1 0 -4.2 0zM540.7 263.4a2.1 2.1 0 1 0 4.2 0a2.1 2.1 0 1 0 -4.2 0zM542.9 262.9a2.1 2.1 0 1 0 4.2 0a2.1 2.1 0 1 0 -4.2 0zM545.1 261.7a2.1 2.1 0 1 0 4.2 0a2.1 2.1 0 1 0 -4.2 0zM547.3 256.7a2.1 2.1 0 1 0 4.2 0a2.1 2.1 0 1 0 -4.2 0zM549.4 259.3a2.1 2.1 0 1 0 4.2 0a2.1 2.1 0 1 0 -4.2 0zM551.6 257.9a2.1 2.1 0 1 0 4.2 0a2.1 2.1 0 1 0 -4.2 0zM553.8 256a2.1 2.1 0 1 0 4.2 0a2.1 2.1 0 1 0 -4.2 0zM556 254.1a2.1 2.1 0 1 0 4.2 0a2.1 2.1 0 1 0 -4.2 0zM558.2 252.8a2.1 2.1 0 1 0 4.2 0a2.1 2.1 0 1 0 -4.2 0zM560.3 250.3a2.1 2.1 0 1 0 4.2 0a2.1 2.1 0 1 0 -4.2 0zM562.5 250.2a2.1 2.1 0 1 0 4.2 0a2.1 2.1 0 1 0 -4.2 0zM564.7 248.3a2.1 2.1 0 1 0 4.2 0a2.1 2.1 0 1 0 -4.2 0zM566.9 248.2a2.1 2.1 0 1 0 4.2 0a2.1 2.1 0 1 0 -4.2 0zM569.1 244.4a2.1 2.1 0 1 0 4.2 0a2.1 2.1 0 1 0 -4.2 0zM571.2 245.8a2.1 2.1 0 1 0 4.2 0a2.1 2.1 0 1 0 -4.2 0zM573.4 244.3a2.1 2.1 0 1 0 4.2 0a2.1 2.1 0 1 0 -4.2 0zM575.6 242.4a2.1 2.1 0 1 0 4.2 0a2.1 2.1 0 1 0 -4.2 0zM577.8 240.6a2.1 2.1 0 1 0 4.2 0a2.1 2.1 0 1 0 -4.2 0zM580 241.2a2.1 2.1 0 1 0 4.2 0a2.1 2.1 0 1 0 -4.2 0zM582.1 235.8a2.1 2.1 0 1 0 4.2 0a2.1 2.1 0 1 0 -4.2 0zM584.3 238.7a2.1 2.1 0 1 0 4.2 0a2.1 2.1 0 1 0 -4.2 0zM586.5 237.2a2.1 2.1 0 1 0 4.2 0a2.1 2.1 0 1 0 -4.2 0zM588.7 236.2a2.1 2.1 0 1 0 4.2 0a2.1 2.1 0 1 0 -4.2 0zM590.9 235.3a2.1 2.1 0 1 0 4.2 0a2.1 2.1 0 1 0 -4.2 0zM593 232.2a2.1 2.1 0 1 0 4.2 0a2.1 2.1 0 1 0 -4.2 0zM595.2 232a2.1 2.1 0 1 0 4.2 0a2.1 2.1 0 1 0 -4.2 0zM597.4 232.7a2.1 2.1 0 1 0 4.2 0a2.1 2.1 0 1 0 -4.2 0zM599.6 231.1a2.1 2.1 0 1 0 4.2 0a2.1 2.1 0 1 0 -4.2 0zM601.8 229.6a2.1 2.1 0 1 0 4.2 0a2.1 2.1 0 1 0 -4.2 0zM603.9 225.8a2.1 2.1 0 1 0 4.2 0a2.1 2.1 0 1 0 -4.2 0zM606.1 230.1a2.1 2.1 0 1 0 4.2 0a2.1 2.1 0 1 0 -4.2 0zM608.3 232.1a2.1 2.1 0 1 0 4.2 0a2.1 2.1 0 1 0 -4.2 0zM610.5 232.7a2.1 2.1 0 1 0 4.2 0a2.1 2.1 0 1 0 -4.2 0zM612.7 231.8a2.1 2.1 0 1 0 4.2 0a2.1 2.1 0 1 0 -4.2 0zM614.8 229a2.1 2.1 0 1 0 4.2 0a2.1 2.1 0 1 0 -4.2 0zM617 234.3a2.1 2.1 0 1 0 4.2 0a2.1 2.1 0 1 0 -4.2 0zM619.2 232.6a2.1 2.1 0 1 0 4.2 0a2.1 2.1 0 1 0 -4.2 0zM621.4 228.3a2.1 2.1 0 1 0 4.2 0a2.1 2.1 0 1 0 -4.2 0zM623.6 233.9a2.1 2.1 0 1 0 4.2 0a2.1 2.1 0 1 0 -4.2 0zM625.7 230.5a2.1 2.1 0 1 0 4.2 0a2.1 2.1 0 1 0 -4.2 0zM627.9 230.9a2.1 2.1 0 1 0 4.2 0a2.1 2.1 0 1 0 -4.2 0zM630.1 232.2a2.1 2.1 0 1 0 4.2 0a2.1 2.1 0 1 0 -4.2 0zM632.3 235.9a2.1 2.1 0 1 0 4.2 0a2.1 2.1 0 1 0 -4.2 0zM634.5 232.8a2.1 2.1 0 1 0 4.2 0a2.1 2.1 0 1 0 -4.2 0zM636.6 234.1a2.1 2.1 0 1 0 4.2 0a2.1 2.1 0 1 0 -4.2 0zM638.8 236.9a2.1 2.1 0 1 0 4.2 0a2.1 2.1 0 1 0 -4.2 0zM641 236.7a2.1 2.1 0 1 0 4.2 0a2.1 2.1 0 1 0 -4.2 0zM643.2 233.5a2.1 2.1 0 1 0 4.2 0a2.1 2.1 0 1 0 -4.2 0zM645.4 233.2a2.1 2.1 0 1 0 4.2 0a2.1 2.1 0 1 0 -4.2 0zM647.5 231.3a2.1 2.1 0 1 0 4.2 0a2.1 2.1 0 1 0 -4.2 0zM649.7 232.4a2.1 2.1 0 1 0 4.2 0a2.1 2.1 0 1 0 -4.2 0zM651.9 234.5a2.1 2.1 0 1 0 4.2 0a2.1 2.1 0 1 0 -4.2 0zM654.1 234.5a2.1 2.1 0 1 0 4.2 0a2.1 2.1 0 1 0 -4.2 0zM656.3 234a2.1 2.1 0 1 0 4.2 0a2.1 2.1 0 1 0 -4.2 0zM658.4 235.7a2.1 2.1 0 1 0 4.2 0a2.1 2.1 0 1 0 -4.2 0zM660.6 232.6a2.1 2.1 0 1 0 4.2 0a2.1 2.1 0 1 0 -4.2 0zM662.8 234.4a2.1 2.1 0 1 0 4.2 0a2.1 2.1 0 1 0 -4.2 0zM665 236.3a2.1 2.1 0 1 0 4.2 0a2.1 2.1 0 1 0 -4.2 0zM667.2 236.5a2.1 2.1 0 1 0 4.2 0a2.1 2.1 0 1 0 -4.2 0zM669.3 237.9a2.1 2.1 0 1 0 4.2 0a2.1 2.1 0 1 0 -4.2 0zM671.5 237.1a2.1 2.1 0 1 0 4.2 0a2.1 2.1 0 1 0 -4.2 0zM673.7 236.3a2.1 2.1 0 1 0 4.2 0a2.1 2.1 0 1 0 -4.2 0zM675.9 238.1a2.1 2.1 0 1 0 4.2 0a2.1 2.1 0 1 0 -4.2 0zM678.1 236.1a2.1 2.1 0 1 0 4.2 0a2.1 2.1 0 1 0 -4.2 0zM680.2 235.5a2.1 2.1 0 1 0 4.2 0a2.1 2.1 0 1 0 -4.2 0zM682.4 240.3a2.1 2.1 0 1 0 4.2 0a2.1 2.1 0 1 0 -4.2 0zM684.6 239.7a2.1 2.1 0 1 0 4.2 0a2.1 2.1 0 1 0 -4.2 0zM686.8 241.1a2.1 2.1 0 1 0 4.2 0a2.1 2.1 0 1 0 -4.2 0zM689 238.1a2.1 2.1 0 1 0 4.2 0a2.1 2.1 0 1 0 -4.2 0zM691.1 241.4a2.1 2.1 0 1 0 4.2 0a2.1 2.1 0 1 0 -4.2 0zM693.3 241.7a2.1 2.1 0 1 0 4.2 0a2.1 2.1 0 1 0 -4.2 0zM695.5 242a2.1 2.1 0 1 0 4.2 0a2.1 2.1 0 1 0 -4.2 0zM697.7 240.2a2.1 2.1 0 1 0 4.2 0a2.1 2.1 0 1 0 -4.2 0zM699.9 244.7a2.1 2.1 0 1 0 4.2 0a2.1 2.1 0 1 0 -4.2 0zM702 247.9a2.1 2.1 0 1 0 4.2 0a2.1 2.1 0 1 0 -4.2 0zM704.2 247.8a2.1 2.1 0 1 0 4.2 0a2.1 2.1 0 1 0 -4.2 0zM706.4 246.8a2.1 2.1 0 1 0 4.2 0a2.1 2.1 0 1 0 -4.2 0zM708.6 249.1a2.1 2.1 0 1 0 4.2 0a2.1 2.1 0 1 0 -4.2 0zM710.8 251.8a2.1 2.1 0 1 0 4.2 0a2.1 2.1 0 1 0 -4.2 0zM712.9 246.3a2.1 2.1 0 1 0 4.2 0a2.1 2.1 0 1 0 -4.2 0zM715.1 252.3a2.1 2.1 0 1 0 4.2 0a2.1 2.1 0 1 0 -4.2 0zM717.3 253.9a2.1 2.1 0 1 0 4.2 0a2.1 2.1 0 1 0 -4.2 0zM719.5 254.2a2.1 2.1 0 1 0 4.2 0a2.1 2.1 0 1 0 -4.2 0zM721.7 256.1a2.1 2.1 0 1 0 4.2 0a2.1 2.1 0 1 0 -4.2 0zM723.8 255a2.1 2.1 0 1 0 4.2 0a2.1 2.1 0 1 0 -4.2 0zM726 253.4a2.1 2.1 0 1 0 4.2 0a2.1 2.1 0 1 0 -4.2 0zM728.2 253.3a2.1 2.1 0 1 0 4.2 0a2.1 2.1 0 1 0 -4.2 0zM730.4 254.1a2.1 2.1 0 1 0 4.2 0a2.1 2.1 0 1 0 -4.2 0z" fill="#f00"/>
<polyline points="55,625.4 57.2,625.5 59.4,625.7 61.5,626 63.7,625.3 65.9,625.2 68.1,625.3 70.3,625.5 72.4,625.1 74.6,625.5 76.8,624.7 79,624.8 81.2,624.8 83.3,625 85.5,625 87.7,624.2 89.9,624.3 92.1,624.6 94.2,624.2 96.4,623.8 98.6,624.5 100.8,624.2 103,624.1 105.1,623.7 107.3,624 109.5,623.3 111.7,623.3 113.9,622.2 116,621.6 118.2,621.3 120.4,620.5 122.6,620.2 124.8,619.4 126.9,618.4 129.1,617.9 131.3,617.1 133.5,616.7 135.7,615.5 137.8,614.7 140,614.4 142.2,613.8 144.4,612.8 146.6,611.2 148.7,610.1 150.9,609.3 153.1,607.7 155.3,606.3 157.5,605.2 159.6,603.3 161.8,599.7 164,595.4 166.2,590.3 168.4,585 170.5,577.8 172.7,570.2 174.9,558 177.1,542.6 179.3,529.6 181.4,517.6 183.6,505.4 185.8,493.1 188,479.2 190.2,466 192.3,453.2 194.5,443.4 196.7,436.1 198.9,430.2 201.1,426 203.2,420.9 205.4,415.7 207.6,410.1 209.8,404.4 212,396.4 214.1,387.3 216.3,377 218.5,366.2 220.7,354.4 222.9,341.7 225,326.4 227.2,309.5 229.4,292.5 231.6,273.1 233.8,251.7 235.9,227.1 238.1,205.4 240.3,188.6 242.5,172.9 244.7,159.5 246.8,146.3 249,135.5 251.2,126.4 253.4,117.5 255.6,108.2 257.7,99.8 259.9,90.5 262.1,81.6 264.3,73.4 266.5,66.5 268.6,59 270.8,54.4 273,47.9 275.2,42.2 277.4,38 279.5,33.8 281.7,32.8 283.9,34 286.1,37.3 288.3,41.3 290.4,45.1 292.6,48.5 294.8,54.9 297,60.8 299.2,69.2 301.3,75.5 303.5,82 305.7,90.1 307.9,98 310.1,105.4 312.2,111.9 314.4,118.8 316.6,125.7 318.8,132.2 321,138.9 323.1,145.9 325.3,152.5 327.5,160.1 329.7,165.7 331.9,171.7 334,177.6 336.2,183.4 338.4,188.6 340.6,193.7 342.8,197.2 344.9,201.7 347.1,208 349.3,209.7 351.5,213 353.7,216.4 355.8,218.1 358,216.7 360.2,217.5 362.4,218.5 364.6,217.9 366.7,217.8 368.9,219.1 371.1,217.1 373.3,217.9 375.5,217.6 377.6,220 379.8,217.6 382,219.6 384.2,220.7 386.4,222.7 388.5,223.6 390.7,225.1 392.9,223.3 395.1,226.3 397.3,226.2 399.4,226.8 401.6,229.4 403.8,227.7 406,226.5 408.2,230.8 410.3,229.8 412.5,232.6 414.7,235.8 416.9,237 419.1,240.7 421.2,238.7 423.4,237.6 425.6,240.6 427.8,241.8 430,242.7 432.1,247.4 434.3,247 436.5,246 438.7,252.8 440.9,252.9 443,255.6 445.2,257.1 447.4,260.2 449.6,261.3 451.8,265.8 453.9,266.5 456.1,268.6 458.3,270.8 460.5,269.3 462.7,273.7 464.8,275.3 467,277.7 469.2,276.1 471.4,282.9 473.6,281 475.7,279.6 477.9,279.7 480.1,283.4 482.3,284.7 484.5,284.5 486.6,286.8 488.8,286.2 491,289.1 493.2,287.2 495.4,288.9 497.5,291 499.7,294.2 501.9,287.3 504.1,288.1 506.3,287 508.4,289.6 510.6,285.3 512.8,285.9 515,285.9 517.2,283.3 519.3,282.4 521.5,282.3 523.7,278.2 525.9,278.5 528.1,279.4 530.2,279.5 532.4,277.7 534.6,273.5 536.8,274.6 539,275.4 541.1,273.4 543.3,270.5 545.5,267.2 547.7,268.4 549.9,264.4 552,261.5 554.2,260.6 556.4,263.3 558.6,259.5 560.8,259.9 562.9,255.5 565.1,256.9 567.3,252.6 569.5,252.2 571.7,255.9 573.8,251.4 576,247.8 578.2,247.4 580.4,247.1 582.6,247.7 584.7,243.5 586.9,240.1 589.1,242 591.3,241.7 593.5,241.1 595.6,242.6 597.8,240 600,240.3 602.2,236 604.4,239.2 606.5,240.9 608.7,237.9 610.9,236.5 613.1,235.7 615.3,237.4 617.4,230.4 619.6,230.1 621.8,230 624,230.2 626.2,227.7 628.3,228.8 630.5,227.6 632.7,228.4 634.9,228.3 637.1,226.9 639.2,229.5 641.4,231.3 643.6,227.8 645.8,229.2 648,231 650.1,227.7 652.3,230.1 654.5,227.7 656.7,231.9 658.9,234.2 661,233.7 663.2,229.6 665.4,231.6 667.6,230.8 669.8,231.1 671.9,234.4 674.1,229.4 676.3,234.5 678.5,233 680.7,236.4 682.8,234.8 685,233.8 687.2,236.3 689.4,237.8 691.6,237.2 693.7,238.9 695.9,237.8 698.1,235.8 700.3,242.6 702.5,243.3 704.6,243.3 706.8,244.2 709,247.1 711.2,245.2 713.4,245.6 715.5,247.4 717.7,250.8 719.9,246.6 722.1,252.2 724.3,249.4 726.4,249.1 728.6,254.2 730.8,252.2 733,250.5" fill="none" stroke="#00f" stroke-width="1.4" stroke-linejoin="round"/>
<path d="M55 622.7L57.3 627L52.7 627zM57.2 622.8L59.5 627.1L54.9 627.1zM59.4 623.1L61.7 627.3L57.1 627.3zM61.5 623.3L63.8 627.6L59.2 627.6zM63.7 622.6L66 626.9L61.4 626.9zM65.9 622.6L68.2 626.9L63.6 626.9zM68.1 622.6L70.4 626.9L65.8 626.9zM70.3 622.9L72.6 627.2L68 627.2zM72.4 622.4L74.7 626.7L70.1 626.7zM74.6 622.8L76.9 627.1L72.3 627.1zM76.8 622L79.1 626.3L74.5 626.3zM79 622.2L81.3 626.4L76.7 626.4zM81.2 622.1L83.5 626.4L78.9 626.4zM83.3 622.4L85.6 626.6L81 626.6zM85.5 622.4L87.8 626.6L83.2 626.6zM87.7 621.5L90 625.8L85.4 625.8zM89.9 621.6L92.2 625.9L87.6 625.9zM92.1 621.9L94.4 626.2L89.8 626.2zM94.2 621.5L96.5 625.8L91.9 625.8zM96.4 621.2L98.7 625.4L94.1 625.4zM98.6 621.9L100.9 626.1L96.3 626.1zM100.8 621.6L103.1 625.8L98.5 625.8zM103 621.5L105.3 625.7L100.7 625.7zM105.1 621L107.4 625.3L102.8 625.3zM107.3 621.3L109.6 625.6L105 625.6zM109.5 620.7L111.8 625L107.2 625zM111.7 620.7L114 625L109.4 625zM113.9 619.6L116.2 623.8L111.6 623.8zM116 619L118.3 623.3L113.7 623.3zM118.2 618.7L120.5 623L115.9 623zM120.4 617.8L122.7 622.1L118.1 622.1zM122.6 617.6L124.9 621.9L120.3 621.9zM124.8 616.8L127.1 621.1L122.5 621.1zM126.9 615.7L129.2 620L124.6 620zM129.1 615.3L131.4 619.5L126.8 619.5zM131.3 614.4L133.6 618.7L129 618.7zM133.5 614L135.8 618.3L131.2 618.3zM135.7 612.8L138 617.1L133.4 617.1zM137.8 612.1L140.1 616.3L135.5 616.3zM140 611.8L142.3 616L137.7 616zM142.2 611.2L144.5 615.4L139.9 615.4zM144.4 610.2L146.7 614.4L142.1 614.4zM146.6 608.5L148.9 612.8L144.3 612.8zM148.7 607.5L151 611.7L146.4 611.7zM150.9 606.7L153.2 610.9L148.6 610.9zM153.1 605L155.4 609.3L150.8 609.3zM155.3 603.6L157.6 607.9L153 607.9zM157.5 602.6L159.8 606.8L155.2 606.8zM159.6 600.7L161.9 605L157.3 605zM161.8 597.1L164.1 601.3L159.5 601.3zM164 592.8L166.3 597L161.7 597zM166.2 587.6L168.5 591.9L163.9 591.9zM168.4 582.4L170.7 586.7L166.1 586.7zM170.5 575.1L172.8 579.4L168.2 579.4zM172.7 567.5L175 571.8L170.4 571.8zM174.9 555.4L177.2 559.7L172.6 559.7zM177.1 539.9L179.4 544.2L174.8 544.2zM179.3 526.9L181.6 531.2L177 531.2zM181.4 515L183.7 519.2L179.1 519.2zM183.6 502.8L185.9 507L181.3 507zM185.8 490.5L188.1 494.7L183.5 494.7zM188 476.5L190.3 480.8L185.7 480.8zM190.2 463.3L192.5 467.6L187.9 467.6zM192.3 450.6L194.6 454.8L190 454.8zM194.5 440.7L196.8 445L192.2 445zM196.7 433.4L199 437.7L194.4 437.7zM198.9 427.6L201.2 431.8L196.6 431.8zM201.1 423.3L203.4 427.6L198.8 427.6zM203.2 418.2L205.5 422.5L200.9 422.5zM205.4 413.1L207.7 417.3L203.1 417.3zM207.6 407.4L209.9 411.7L205.3 411.7zM209.8 401.7L212.1 406L207.5 406zM212 393.7L214.3 398L209.7 398zM214.1 384.7L216.4 388.9L211.8 388.9zM216.3 374.4L218.6 378.7L214 378.7zM218.5 363.6L220.8 367.8L216.2 367.8zM220.7 351.8L223 356L218.4 356zM222.9 339.1L225.2 343.3L220.6 343.3zM225 323.8L227.3 328L222.7 328zM227.2 306.8L229.5 311.1L224.9 311.1zM229.4 289.9L231.7 294.1L227.1 294.1zM231.6 270.5L233.9 274.7L229.3 274.7zM233.8 249.1L236.1 253.3L231.5 253.3zM235.9 224.4L238.2 228.7L233.6 228.7zM238.1 202.7L240.4 207L235.8 207zM240.3 186L242.6 190.2L238 190.2zM242.5 170.3L244.8 174.5L240.2 174.5zM244.7 156.9L247 161.1L242.4 161.1zM246.8 143.6L249.1 147.9L244.5 147.9zM249 132.8L251.3 137.1L246.7 137.1zM251.2 123.7L253.5 128L248.9 128zM253.4 114.9L255.7 119.1L251.1 119.1zM255.6 105.5L257.9 109.8L253.3 109.8zM257.7 97.1L260 101.4L255.4 101.4zM259.9 87.8L262.2 92.1L257.6 92.1zM262.1 78.9L264.4 83.2L259.8 83.2zM264.3 70.7L266.6 75L262 75zM266.5 63.8L268.8 68.1L264.2 68.1zM268.6 56.4L270.9 60.7L266.3 60.7zM270.8 51.8L273.1 56L268.5 56zM273 45.2L275.3 49.5L270.7 49.5zM275.2 39.6L277.5 43.8L272.9 43.8zM277.4 35.4L279.7 39.6L275.1 39.6zM279.5 31.1L281.8 35.4L277.2 35.4zM281.7 30.2L284 34.5L279.4 34.5zM283.9 31.3L286.2 35.6L281.6 35.6zM286.1 34.6L288.4 38.9L283.8 38.9zM288.3 38.7L290.6 42.9L286 42.9zM290.4 42.5L292.7 46.7L288.1 46.7zM292.6 45.9L294.9 50.2L290.3 50.2zM294.8 52.3L297.1 56.5L292.5 56.5zM297 58.1L299.3 62.4L294.7 62.4zM299.2 66.5L301.5 70.8L296.9 70.8zM301.3 72.9L303.6 77.1L299 77.1zM303.5 79.4L305.8 83.7L301.2 83.7zM305.7 87.4L308 91.7L303.4 91.7zM307.9 95.3L310.2 99.6L305.6 99.6zM310.1 102.7L312.4 107L307.8 107zM312.2 109.2L314.5 113.5L309.9 113.5zM314.4 116.2L316.7 120.5L312.1 120.5zM316.6 123.1L318.9 127.3L314.3 127.3zM318.8 129.6L321.1 133.8L316.5 133.8zM321 136.3L323.3 140.5L318.7 140.5zM323.1 143.2L325.4 147.5L320.8 147.5zM325.3 149.8L327.6 154.1L323 154.1zM327.5 157.5L329.8 161.7L325.2 161.7zM329.7 163.1L332 167.3L327.4 167.3zM331.9 169.1L334.2 173.4L329.6 173.4zM334 174.9L336.3 179.2L331.7 179.2zM336.2 180.8L338.5 185L333.9 185zM338.4 186L340.7 190.2L336.1 190.2zM340.6 191L342.9 195.3L338.3 195.3zM342.8 194.5L345.1 198.8L340.5 198.8zM344.9 199L347.2 203.3L342.6 203.3zM347.1 205.4L349.4 209.6L344.8 209.6zM349.3 207.1L351.6 211.4L347 211.4zM351.5 210.4L353.8 214.6L349.2 214.6zM353.7 213.7L356 218L351.4 218zM355.8 215.4L358.1 219.7L353.5 219.7zM358 214L360.3 218.3L355.7 218.3zM360.2 214.8L362.5 219.1L357.9 219.1zM362.4 215.9L364.7 220.1L360.1 220.1zM364.6 215.3L366.9 219.5L362.3 219.5zM366.7 215.2L369 219.4L364.4 219.4zM368.9 216.5L371.2 220.7L366.6 220.7zM371.1 214.5L373.4 218.7L368.8 218.7zM373.3 215.2L375.6 219.5L371 219.5zM375.5 215L377.8 219.2L373.2 219.2zM377.6 217.3L379.9 221.6L375.3 221.6zM379.8 215L382.1 219.2L377.5 219.2zM382 217L384.3 221.2L379.7 221.2zM384.2 218L386.5 222.3L381.9 222.3zM386.4 220.1L388.7 224.3L384.1 224.3zM388.5 220.9L390.8 225.2L386.2 225.2zM390.7 222.5L393 226.7L388.4 226.7zM392.9 220.7L395.2 224.9L390.6 224.9zM395.1 223.6L397.4 227.9L392.8 227.9zM397.3 223.6L399.6 227.8L395 227.8zM399.4 224.2L401.7 228.4L397.1 228.4zM401.6 226.8L403.9 231L399.3 231zM403.8 225L406.1 229.3L401.5 229.3zM406 223.9L408.3 228.1L403.7 228.1zM408.2 228.2L410.5 232.5L405.9 232.5zM410.3 227.2L412.6 231.4L408 231.4zM412.5 230L414.8 234.2L410.2 234.2zM414.7 233.2L417 237.4L412.4 237.4zM416.9 234.3L419.2 238.6L414.6 238.6zM419.1 238.1L421.4 242.4L416.8 242.4zM421.2 236.1L423.5 240.3L418.9 240.3zM423.4 235L425.7 239.2L421.1 239.2zM425.6 237.9L427.9 242.2L423.3 242.2zM427.8 239.1L430.1 243.4L425.5 243.4zM430 240.1L432.3 244.3L427.7 244.3zM432.1 244.8L434.4 249L429.8 249zM434.3 244.3L436.6 248.6L432 248.6zM436.5 243.4L438.8 247.7L434.2 247.7zM438.7 250.1L441 254.4L436.4 254.4zM440.9 250.3L443.2 254.5L438.6 254.5zM443 253L445.3 257.2L440.7 257.2zM445.2 254.5L447.5 258.7L442.9 258.7zM447.4 257.6L449.7 261.8L445.1 261.8zM449.6 258.6L451.9 262.9L447.3 262.9zM451.8 263.1L454.1 267.4L449.5 267.4zM453.9 263.8L456.2 268.1L451.6 268.1zM456.1 266L458.4 270.2L453.8 270.2zM458.3 268.2L460.6 272.4L456 272.4zM460.5 266.7L462.8 271L458.2 271zM462.7 271.1L465 275.3L460.4 275.3zM464.8 272.7L467.1 276.9L462.5 276.9zM467 275.1L469.3 279.4L464.7 279.4zM469.2 273.4L471.5 277.7L466.9 277.7zM471.4 280.2L473.7 284.5L469.1 284.5zM473.6 278.4L475.9 282.6L471.3 282.6zM475.7 277L478 281.2L473.4 281.2zM477.9 277.1L480.2 281.3L475.6 281.3zM480.1 280.8L482.4 285L477.8 285zM482.3 282.1L484.6 286.4L480 286.4zM484.5 281.8L486.8 286.1L482.2 286.1zM486.6 284.2L488.9 288.4L484.3 288.4zM488.8 283.5L491.1 287.8L486.5 287.8zM491 286.4L493.3 290.7L488.7 290.7zM493.2 284.5L495.5 288.8L490.9 288.8zM495.4 286.2L497.7 290.5L493.1 290.5zM497.5 288.4L499.8 292.7L495.2 292.7zM499.7 291.5L502 295.8L497.4 295.8zM501.9 284.7L504.2 288.9L499.6 288.9zM504.1 285.5L506.4 289.7L501.8 289.7zM506.3 284.4L508.6 288.6L504 288.6zM508.4 287L510.7 291.2L506.1 291.2zM510.6 282.7L512.9 286.9L508.3 286.9zM512.8 283.2L515.1 287.5L510.5 287.5zM515 283.3L517.3 287.6L512.7 287.6zM517.2 280.6L519.5 284.9L514.9 284.9zM519.3 279.7L521.6 284L517 284zM521.5 279.7L523.8 283.9L519.2 283.9zM523.7 275.6L526 279.8L521.4 279.8zM525.9 275.8L528.2 280.1L523.6 280.1zM528.1 276.8L530.4 281L525.8 281zM530.2 276.8L532.5 281.1L527.9 281.1zM532.4 275.1L534.7 279.4L530.1 279.4zM534.6 270.8L536.9 275.1L532.3 275.1zM536.8 271.9L539.1 276.2L534.5 276.2zM539 272.8L541.3 277.1L536.7 277.1zM541.1 270.7L543.4 275L538.8 275zM543.3 267.9L545.6 272.1L541 272.1zM545.5 264.6L547.8 268.9L543.2 268.9zM547.7 265.7L550 270L545.4 270zM549.9 261.7L552.2 266L547.6 266zM552 258.9L554.3 263.1L549.7 263.1zM554.2 257.9L556.5 262.2L551.9 262.2zM556.4 260.6L558.7 264.9L554.1 264.9zM558.6 256.8L560.9 261.1L556.3 261.1zM560.8 257.3L563.1 261.5L558.5 261.5zM562.9 252.8L565.2 257.1L560.6 257.1zM565.1 254.2L567.4 258.5L562.8 258.5zM567.3 250L569.6 254.2L565 254.2zM569.5 249.5L571.8 253.8L567.2 253.8zM571.7 253.3L574 257.6L569.4 257.6zM573.8 248.8L576.1 253.1L571.5 253.1zM576 245.2L578.3 249.4L573.7 249.4zM578.2 244.8L580.5 249.1L575.9 249.1zM580.4 244.5L582.7 248.7L578.1 248.7zM582.6 245.1L584.9 249.3L580.3 249.3zM584.7 240.8L587 245.1L582.4 245.1zM586.9 237.5L589.2 241.7L584.6 241.7zM589.1 239.3L591.4 243.6L586.8 243.6zM591.3 239L593.6 243.3L589 243.3zM593.5 238.4L595.8 242.7L591.2 242.7zM595.6 240L597.9 244.2L593.3 244.2zM597.8 237.4L600.1 241.6L595.5 241.6zM600 237.7L602.3 241.9L597.7 241.9zM602.2 233.4L604.5 237.7L599.9 237.7zM604.4 236.5L606.7 240.8L602.1 240.8zM606.5 238.3L608.8 242.5L604.2 242.5zM608.7 235.3L611 239.5L606.4 239.5zM610.9 233.8L613.2 238.1L608.6 238.1zM613.1 233L615.4 237.3L610.8 237.3zM615.3 234.8L617.6 239L613 239zM617.4 227.7L619.7 232L615.1 232zM619.6 227.4L621.9 231.7L617.3 231.7zM621.8 227.4L624.1 231.6L619.5 231.6zM624 227.6L626.3 231.8L621.7 231.8zM626.2 225L628.5 229.3L623.9 229.3zM628.3 226.2L630.6 230.5L626 230.5zM630.5 225L632.8 229.2L628.2 229.2zM632.7 225.7L635 230L630.4 230zM634.9 225.6L637.2 229.9L632.6 229.9zM637.1 224.3L639.4 228.6L634.8 228.6zM639.2 226.9L641.5 231.1L636.9 231.1zM641.4 228.6L643.7 232.9L639.1 232.9zM643.6 225.2L645.9 229.4L641.3 229.4zM645.8 226.6L648.1 230.8L643.5 230.8zM648 228.3L650.3 232.6L645.7 232.6zM650.1 225L652.4 229.3L647.8 229.3zM652.3 227.4L654.6 231.7L650 231.7zM654.5 225.1L656.8 229.3L652.2 229.3zM656.7 229.3L659 233.5L654.4 233.5zM658.9 231.5L661.2 235.8L656.6 235.8zM661 231L663.3 235.3L658.7 235.3zM663.2 226.9L665.5 231.2L660.9 231.2zM665.4 229L667.7 233.2L663.1 233.2zM667.6 228.1L669.9 232.4L665.3 232.4zM669.8 228.5L672.1 232.8L667.5 232.8zM671.9 231.7L674.2 236L669.6 236zM674.1 226.8L676.4 231L671.8 231zM676.3 231.9L678.6 236.1L674 236.1zM678.5 230.4L680.8 234.6L676.2 234.6zM680.7 233.8L683 238L678.4 238zM682.8 232.1L685.1 236.4L680.5 236.4zM685 231.2L687.3 235.4L682.7 235.4zM687.2 233.6L689.5 237.9L684.9 237.9zM689.4 235.2L691.7 239.4L687.1 239.4zM691.6 234.5L693.9 238.8L689.3 238.8zM693.7 236.2L696 240.5L691.4 240.5zM695.9 235.2L698.2 239.5L693.6 239.5zM698.1 233.1L700.4 237.4L695.8 237.4zM700.3 239.9L702.6 244.2L698 244.2zM702.5 240.6L704.8 244.9L700.2 244.9zM704.6 240.6L706.9 244.9L702.3 244.9zM706.8 241.6L709.1 245.8L704.5 245.8zM709 244.4L711.3 248.7L706.7 248.7zM711.2 242.6L713.5 246.8L708.9 246.8zM713.4 243L715.7 247.2L711.1 247.2zM715.5 244.8L717.8 249L713.2 249zM717.7 248.1L720 252.4L715.4 252.4zM719.9 243.9L722.2 248.2L717.6 248.2zM722.1 249.5L724.4 253.8L719.8 253.8zM724.3 246.7L726.6 251L722 251zM726.4 246.5L728.7 250.7L724.1 250.7zM728.6 251.6L730.9 255.8L726.3 255.8zM730.8 249.6L733.1 253.8L728.5 253.8zM733 247.8L735.3 252.1L730.7 252.1z" fill="#00f"/>
<polyline points="55.5,626.2 57.7,626.5 59.9,626.6 62,626 64.2,626.2 66.4,626.3 68.6,625.8 70.8,626 72.9,625.9 75.1,625.6 77.3,625.6 79.5,625.7 81.7,625.6 83.8,625.4 86,625.4 88.2,625.8 90.4,625.4 92.6,625.5 94.7,625.5 96.9,625.1 99.1,625.4 101.3,624.3 103.5,624.5 105.6,623.9 107.8,624.2 110,623.8 112.2,622.2 114.4,622 116.5,621.9 118.7,621.4 120.9,620.8 123.1,619.9 125.3,619.3 127.4,618.7 129.6,617.7 131.8,617.3 134,615.6 136.2,615.7 138.3,614.4 140.5,614.1 142.7,612.9 144.9,611.7 147.1,611.1 149.2,609.6 151.4,608.3 153.6,606.7 155.8,605.5 158,603.5 160.1,600.5 162.3,596.3 164.5,591.5 166.7,585.4 168.9,578.6 171,571.1 173.2,559.7 175.4,543.4 177.6,530.6 179.8,518.4 181.9,506.7 184.1,494.1 186.3,481.6 188.5,470.1 190.7,460.6 192.8,448.7 195,439.5 197.2,432.6 199.4,425.6 201.6,419.5 203.7,412.6 205.9,407.2 208.1,401.4 210.3,394.5 212.5,387.2 214.6,378.9 216.8,368 219,353.9 221.2,339.6 223.4,324.3 225.5,308.8 227.7,288.6 229.9,269.9 232.1,251.8 234.3,233.5 236.4,215.6 238.6,198.1 240.8,180.7 243,164.5 245.2,149 247.3,134.7 249.5,123 251.7,114 253.9,105.3 256.1,95.9 258.2,85.9 260.4,78.8 262.6,71 264.8,63.9 267,56.8 269.1,50.2 271.3,42.5 273.5,36.7 275.7,32.1 277.9,30 280,27.7 282.2,27.7 284.4,27.4 286.6,28.4 288.8,29 290.9,33.1 293.1,38.1 295.3,44.1 297.5,52.4 299.7,60.4 301.8,67.1 304,73.6 306.2,80.4 308.4,87.1 310.6,95 312.7,105.1 314.9,114.1 317.1,122.8 319.3,129.6 321.5,137 323.6,144.5 325.8,151 328,156.5 330.2,162.2 332.4,168.1 334.5,174.6 336.7,180.2 338.9,187.3 341.1,191.6 343.3,197.3 345.4,202.7 347.6,205.7 349.8,206.9 352,211.7 354.2,215 356.3,215.6 358.5,216.4 360.7,217.9 362.9,217 365.1,219.9 367.2,216 369.4,216.4 371.6,216.5 373.8,216.7 376,217.8 378.1,219 380.3,219.5 382.5,221.4 384.7,219.1 386.9,221.6 389,221.6 391.2,223.1 393.4,224 395.6,223.8 397.8,224.9 399.9,227.3 402.1,228.4 404.3,227.6 406.5,233.8 408.7,235.2 410.8,229.2 413,233.7 415.2,239.1 417.4,237.1 419.6,237.5 421.7,238.3 423.9,239.5 426.1,242.1 428.3,243.3 430.5,247.4 432.6,246.5 434.8,247.6 437,247.3 439.2,250.8 441.4,250.7 443.5,253.8 445.7,258 447.9,258.7 450.1,260.9 452.3,262.8 454.4,264.5 456.6,266.4 458.8,268.3 461,272.3 463.2,270.7 465.3,277.1 467.5,276.4 469.7,276.4 471.9,278.4 474.1,279.4 476.2,282.3 478.4,281.7 480.6,286.2 482.8,283.5 485,281.5 487.1,285.2 489.3,283.2 491.5,287.2 493.7,289.5 495.9,288.9 498,285.2 500.2,286.3 502.4,290.9 504.6,287.8 506.8,286.7 508.9,288.2 511.1,290.3 513.3,287.4 515.5,284.5 517.7,284.1 519.8,283.8 522,280.6 524.2,278.9 526.4,280.1 528.6,277.2 530.7,277.8 532.9,276.9 535.1,279.9 537.3,272.5 539.5,272.4 541.6,270.7 543.8,270 546,269.3 548.2,264.6 550.4,262.3 552.5,259.1 554.7,259 556.9,260.2 559.1,257.9 561.3,254.4 563.4,254.3 565.6,253.7 567.8,253.4 570,250.1 572.2,249.6 574.3,245.5 576.5,245.7 578.7,249.9 580.9,241.6 583.1,244 585.2,244 587.4,241.7 589.6,239.8 591.8,240.1 594,239.1 596.1,237.8 598.3,233.4 600.5,235.8 602.7,233.6 604.9,233.4 607,234.2 609.2,234.4 611.4,234.4 613.6,231.3 615.8,233.7 617.9,233.8 620.1,233.5 622.3,233.7 624.5,230.6 626.7,230.4 628.8,232.2 631,228 633.2,231 635.4,229.6 637.6,229.9 639.7,227.3 641.9,228.8 644.1,230.4 646.3,232 648.5,232 650.6,229.9 652.8,229.6 655,228.3 657.2,230.6 659.4,229.3 661.5,231.1 663.7,233.6 665.9,230.6 668.1,228.3 670.3,230 672.4,229.4 674.6,230.4 676.8,235.8 679,234.3 681.2,231.5 683.3,236.2 685.5,237.9 687.7,235.4 689.9,235.3 692.1,236.4 694.2,238.1 696.4,239.3 698.6,241 700.8,241.9 703,243 705.1,244.6 707.3,244.6 709.5,241.7 711.7,245.5 713.9,247.5 716,247.4 718.2,251 720.4,249.6 722.6,249.3 724.8,254.6 726.9,253.8 729.1,253.5 731.3,255.4 733.5,256" fill="none" stroke="#f0f" stroke-width="1.4" stroke-linejoin="round"/>
<path d="M55.5 628.9L57.8 624.6L53.2 624.6zM57.7 629.2L60 624.9L55.4 624.9zM59.9 629.2L62.2 625L57.6 625zM62 628.7L64.3 624.4L59.7 624.4zM64.2 628.9L66.5 624.6L61.9 624.6zM66.4 628.9L68.7 624.7L64.1 624.7zM68.6 628.4L70.9 624.2L66.3 624.2zM70.8 628.7L73.1 624.4L68.5 624.4zM72.9 628.5L75.2 624.2L70.6 624.2zM75.1 628.3L77.4 624L72.8 624zM77.3 628.3L79.6 624L75 624zM79.5 628.4L81.8 624.1L77.2 624.1zM81.7 628.3L84 624L79.4 624zM83.8 628.1L86.1 623.8L81.5 623.8zM86 628L88.3 623.8L83.7 623.8zM88.2 628.4L90.5 624.2L85.9 624.2zM90.4 628.1L92.7 623.8L88.1 623.8zM92.6 628.2L94.9 623.9L90.3 623.9zM94.7 628.1L97 623.9L92.4 623.9zM96.9 627.8L99.2 623.5L94.6 623.5zM99.1 628.1L101.4 623.8L96.8 623.8zM101.3 626.9L103.6 622.7L99 622.7zM103.5 627.1L105.8 622.9L101.2 622.9zM105.6 626.5L107.9 622.2L103.3 622.2zM107.8 626.8L110.1 622.6L105.5 622.6zM110 626.4L112.3 622.2L107.7 622.2zM112.2 624.9L114.5 620.6L109.9 620.6zM114.4 624.6L116.7 620.4L112.1 620.4zM116.5 624.6L118.8 620.3L114.2 620.3zM118.7 624L121 619.8L116.4 619.8zM120.9 623.4L123.2 619.2L118.6 619.2zM123.1 622.5L125.4 618.3L120.8 618.3zM125.3 622L127.6 617.7L123 617.7zM127.4 621.3L129.7 617.1L125.1 617.1zM129.6 620.4L131.9 616.1L127.3 616.1zM131.8 619.9L134.1 615.7L129.5 615.7zM134 618.2L136.3 614L131.7 614zM136.2 618.3L138.5 614.1L133.9 614.1zM138.3 617L140.6 612.8L136 612.8zM140.5 616.8L142.8 612.5L138.2 612.5zM142.7 615.5L145 611.3L140.4 611.3zM144.9 614.4L147.2 610.1L142.6 610.1zM147.1 613.7L149.4 609.5L144.8 609.5zM149.2 612.2L151.5 608L146.9 608zM151.4 611L153.7 606.7L149.1 606.7zM153.6 609.4L155.9 605.1L151.3 605.1zM155.8 608.2L158.1 603.9L153.5 603.9zM158 606.1L160.3 601.9L155.7 601.9zM160.1 603.2L162.4 598.9L157.8 598.9zM162.3 598.9L164.6 594.6L160 594.6zM164.5 594.1L166.8 589.9L162.2 589.9zM166.7 588L169 583.8L164.4 583.8zM168.9 581.2L171.2 577L166.6 577zM171 573.8L173.3 569.5L168.7 569.5zM173.2 562.3L175.5 558.1L170.9 558.1zM175.4 546.1L177.7 541.8L173.1 541.8zM177.6 533.3L179.9 529L175.3 529zM179.8 521L182.1 516.8L177.5 516.8zM181.9 509.3L184.2 505.1L179.6 505.1zM184.1 496.7L186.4 492.5L181.8 492.5zM186.3 484.2L188.6 480L184 480zM188.5 472.7L190.8 468.5L186.2 468.5zM190.7 463.3L193 459L188.4 459zM192.8 451.4L195.1 447.1L190.5 447.1zM195 442.2L197.3 437.9L192.7 437.9zM197.2 435.2L199.5 431L194.9 431zM199.4 428.2L201.7 424L197.1 424zM201.6 422.2L203.9 417.9L199.3 417.9zM203.7 415.2L206 411L201.4 411zM205.9 409.8L208.2 405.6L203.6 405.6zM208.1 404L210.4 399.8L205.8 399.8zM210.3 397.1L212.6 392.9L208 392.9zM212.5 389.9L214.8 385.6L210.2 385.6zM214.6 381.6L216.9 377.3L212.3 377.3zM216.8 370.6L219.1 366.4L214.5 366.4zM219 356.5L221.3 352.3L216.7 352.3zM221.2 342.3L223.5 338L218.9 338zM223.4 327L225.7 322.7L221.1 322.7zM225.5 311.4L227.8 307.2L223.2 307.2zM227.7 291.2L230 287L225.4 287zM229.9 272.5L232.2 268.3L227.6 268.3zM232.1 254.4L234.4 250.2L229.8 250.2zM234.3 236.2L236.6 231.9L232 231.9zM236.4 218.2L238.7 214L234.1 214zM238.6 200.8L240.9 196.5L236.3 196.5zM240.8 183.4L243.1 179.1L238.5 179.1zM243 167.1L245.3 162.9L240.7 162.9zM245.2 151.6L247.5 147.4L242.9 147.4zM247.3 137.4L249.6 133.1L245 133.1zM249.5 125.6L251.8 121.4L247.2 121.4zM251.7 116.7L254 112.4L249.4 112.4zM253.9 108L256.2 103.7L251.6 103.7zM256.1 98.6L258.4 94.3L253.8 94.3zM258.2 88.6L260.5 84.3L255.9 84.3zM260.4 81.4L262.7 77.1L258.1 77.1zM262.6 73.7L264.9 69.4L260.3 69.4zM264.8 66.6L267.1 62.3L262.5 62.3zM267 59.5L269.3 55.2L264.7 55.2zM269.1 52.8L271.4 48.6L266.8 48.6zM271.3 45.2L273.6 40.9L269 40.9zM273.5 39.4L275.8 35.1L271.2 35.1zM275.7 34.7L278 30.5L273.4 30.5zM277.9 32.7L280.2 28.4L275.6 28.4zM280 30.4L282.3 26.1L277.7 26.1zM282.2 30.3L284.5 26.1L279.9 26.1zM284.4 30L286.7 25.8L282.1 25.8zM286.6 31.1L288.9 26.8L284.3 26.8zM288.8 31.6L291.1 27.4L286.5 27.4zM290.9 35.7L293.2 31.5L288.6 31.5zM293.1 40.8L295.4 36.5L290.8 36.5zM295.3 46.7L297.6 42.5L293 42.5zM297.5 55.1L299.8 50.8L295.2 50.8zM299.7 63L302 58.8L297.4 58.8zM301.8 69.7L304.1 65.5L299.5 65.5zM304 76.2L306.3 72L301.7 72zM306.2 83L308.5 78.8L303.9 78.8zM308.4 89.8L310.7 85.5L306.1 85.5zM310.6 97.6L312.9 93.4L308.3 93.4zM312.7 107.7L315 103.5L310.4 103.5zM314.9 116.8L317.2 112.5L312.6 112.5zM317.1 125.4L319.4 121.1L314.8 121.1zM319.3 132.3L321.6 128L317 128zM321.5 139.6L323.8 135.4L319.2 135.4zM323.6 147.2L325.9 142.9L321.3 142.9zM325.8 153.6L328.1 149.4L323.5 149.4zM328 159.1L330.3 154.9L325.7 154.9zM330.2 164.9L332.5 160.6L327.9 160.6zM332.4 170.8L334.7 166.5L330.1 166.5zM334.5 177.2L336.8 173L332.2 173zM336.7 182.9L339 178.6L334.4 178.6zM338.9 189.9L341.2 185.7L336.6 185.7zM341.1 194.3L343.4 190L338.8 190zM343.3 200L345.6 195.7L341 195.7zM345.4 205.3L347.7 201.1L343.1 201.1zM347.6 208.4L349.9 204.1L345.3 204.1zM349.8 209.5L352.1 205.3L347.5 205.3zM352 214.4L354.3 210.1L349.7 210.1zM354.2 217.6L356.5 213.4L351.9 213.4zM356.3 218.2L358.6 214L354 214zM358.5 219.1L360.8 214.8L356.2 214.8zM360.7 220.5L363 216.3L358.4 216.3zM362.9 219.7L365.2 215.4L360.6 215.4zM365.1 222.6L367.4 218.3L362.8 218.3zM367.2 218.6L369.5 214.4L364.9 214.4zM369.4 219L371.7 214.7L367.1 214.7zM371.6 219.2L373.9 214.9L369.3 214.9zM373.8 219.3L376.1 215.1L371.5 215.1zM376 220.5L378.3 216.2L373.7 216.2zM378.1 221.7L380.4 217.4L375.8 217.4zM380.3 222.1L382.6 217.9L378 217.9zM382.5 224L384.8 219.8L380.2 219.8zM384.7 221.7L387 217.5L382.4 217.5zM386.9 224.3L389.2 220L384.6 220zM389 224.3L391.3 220L386.7 220zM391.2 225.8L393.5 221.5L388.9 221.5zM393.4 226.6L395.7 222.4L391.1 222.4zM395.6 226.4L397.9 222.2L393.3 222.2zM397.8 227.6L400.1 223.3L395.5 223.3zM399.9 229.9L402.2 225.7L397.6 225.7zM402.1 231L404.4 226.8L399.8 226.8zM404.3 230.2L406.6 226L402 226zM406.5 236.4L408.8 232.1L404.2 232.1zM408.7 237.9L411 233.6L406.4 233.6zM410.8 231.8L413.1 227.5L408.5 227.5zM413 236.3L415.3 232.1L410.7 232.1zM415.2 241.7L417.5 237.5L412.9 237.5zM417.4 239.8L419.7 235.5L415.1 235.5zM419.6 240.1L421.9 235.9L417.3 235.9zM421.7 240.9L424 236.7L419.4 236.7zM423.9 242.2L426.2 237.9L421.6 237.9zM426.1 244.8L428.4 240.5L423.8 240.5zM428.3 246L430.6 241.7L426 241.7zM430.5 250L432.8 245.7L428.2 245.7zM432.6 249.1L434.9 244.9L430.3 244.9zM434.8 250.2L437.1 246L432.5 246zM437 249.9L439.3 245.7L434.7 245.7zM439.2 253.4L441.5 249.2L436.9 249.2zM441.4 253.4L443.7 249.1L439.1 249.1zM443.5 256.4L445.8 252.2L441.2 252.2zM445.7 260.6L448 256.4L443.4 256.4zM447.9 261.3L450.2 257L445.6 257zM450.1 263.6L452.4 259.3L447.8 259.3zM452.3 265.4L454.6 261.2L450 261.2zM454.4 267.1L456.7 262.9L452.1 262.9zM456.6 269.1L458.9 264.8L454.3 264.8zM458.8 270.9L461.1 266.7L456.5 266.7zM461 274.9L463.3 270.7L458.7 270.7zM463.2 273.3L465.5 269.1L460.9 269.1zM465.3 279.8L467.6 275.5L463 275.5zM467.5 279L469.8 274.8L465.2 274.8zM469.7 279.1L472 274.8L467.4 274.8zM471.9 281L474.2 276.8L469.6 276.8zM474.1 282.1L476.4 277.8L471.8 277.8zM476.2 284.9L478.5 280.7L473.9 280.7zM478.4 284.4L480.7 280.1L476.1 280.1zM480.6 288.9L482.9 284.6L478.3 284.6zM482.8 286.2L485.1 281.9L480.5 281.9zM485 284.2L487.3 279.9L482.7 279.9zM487.1 287.8L489.4 283.5L484.8 283.5zM489.3 285.8L491.6 281.6L487 281.6zM491.5 289.8L493.8 285.6L489.2 285.6zM493.7 292.2L496 287.9L491.4 287.9zM495.9 291.6L498.2 287.3L493.6 287.3zM498 287.9L500.3 283.6L495.7 283.6zM500.2 289L502.5 284.7L497.9 284.7zM502.4 293.6L504.7 289.3L500.1 289.3zM504.6 290.4L506.9 286.2L502.3 286.2zM506.8 289.3L509.1 285.1L504.5 285.1zM508.9 290.8L511.2 286.6L506.6 286.6zM511.1 292.9L513.4 288.7L508.8 288.7zM513.3 290.1L515.6 285.8L511 285.8zM515.5 287.1L517.8 282.9L513.2 282.9zM517.7 286.7L520 282.5L515.4 282.5zM519.8 286.4L522.1 282.2L517.5 282.2zM522 283.3L524.3 279L519.7 279zM524.2 281.5L526.5 277.3L521.9 277.3zM526.4 282.7L528.7 278.5L524.1 278.5zM528.6 279.9L530.9 275.6L526.3 275.6zM530.7 280.5L533 276.2L528.4 276.2zM532.9 279.6L535.2 275.3L530.6 275.3zM535.1 282.6L537.4 278.3L532.8 278.3zM537.3 275.1L539.6 270.9L535 270.9zM539.5 275.1L541.8 270.8L537.2 270.8zM541.6 273.3L543.9 269.1L539.3 269.1zM543.8 272.7L546.1 268.4L541.5 268.4zM546 272L548.3 267.7L543.7 267.7zM548.2 267.2L550.5 263L545.9 263zM550.4 264.9L552.7 260.7L548.1 260.7zM552.5 261.8L554.8 257.5L550.2 257.5zM554.7 261.6L557 257.3L552.4 257.3zM556.9 262.9L559.2 258.6L554.6 258.6zM559.1 260.5L561.4 256.2L556.8 256.2zM561.3 257.1L563.6 252.8L559 252.8zM563.4 256.9L565.7 252.7L561.1 252.7zM565.6 256.4L567.9 252.1L563.3 252.1zM567.8 256L570.1 251.8L565.5 251.8zM570 252.7L572.3 248.5L567.7 248.5zM572.2 252.2L574.5 248L569.9 248zM574.3 248.2L576.6 243.9L572 243.9zM576.5 248.4L578.8 244.1L574.2 244.1zM578.7 252.6L581 248.3L576.4 248.3zM580.9 244.2L583.2 240L578.6 240zM583.1 246.7L585.4 242.4L580.8 242.4zM585.2 246.6L587.5 242.4L582.9 242.4zM587.4 244.4L589.7 240.1L585.1 240.1zM589.6 242.5L591.9 238.2L587.3 238.2zM591.8 242.8L594.1 238.5L589.5 238.5zM594 241.7L596.3 237.5L591.7 237.5zM596.1 240.5L598.4 236.2L593.8 236.2zM598.3 236L600.6 231.8L596 231.8zM600.5 238.4L602.8 234.2L598.2 234.2zM602.7 236.2L605 232L600.4 232zM604.9 236.1L607.2 231.8L602.6 231.8zM607 236.8L609.3 232.6L604.7 232.6zM609.2 237.1L611.5 232.8L606.9 232.8zM611.4 237.1L613.7 232.8L609.1 232.8zM613.6 234L615.9 229.7L611.3 229.7zM615.8 236.3L618.1 232.1L613.5 232.1zM617.9 236.5L620.2 232.2L615.6 232.2zM620.1 236.1L622.4 231.9L617.8 231.9zM622.3 236.4L624.6 232.1L620 232.1zM624.5 233.2L626.8 229L622.2 229zM626.7 233L629 228.7L624.4 228.7zM628.8 234.8L631.1 230.6L626.5 230.6zM631 230.6L633.3 226.4L628.7 226.4zM633.2 233.6L635.5 229.4L630.9 229.4zM635.4 232.2L637.7 228L633.1 228zM637.6 232.5L639.9 228.3L635.3 228.3zM639.7 229.9L642 225.7L637.4 225.7zM641.9 231.5L644.2 227.2L639.6 227.2zM644.1 233L646.4 228.8L641.8 228.8zM646.3 234.6L648.6 230.3L644 230.3zM648.5 234.7L650.8 230.4L646.2 230.4zM650.6 232.5L652.9 228.3L648.3 228.3zM652.8 232.2L655.1 228L650.5 228zM655 230.9L657.3 226.7L652.7 226.7zM657.2 233.2L659.5 229L654.9 229zM659.4 232L661.7 227.7L657.1 227.7zM661.5 233.7L663.8 229.5L659.2 229.5zM663.7 236.2L666 232L661.4 232zM665.9 233.3L668.2 229L663.6 229zM668.1 231L670.4 226.7L665.8 226.7zM670.3 232.6L672.6 228.4L668 228.4zM672.4 232L674.7 227.8L670.1 227.8zM674.6 233.1L676.9 228.8L672.3 228.8zM676.8 238.4L679.1 234.2L674.5 234.2zM679 236.9L681.3 232.7L676.7 232.7zM681.2 234.2L683.5 229.9L678.9 229.9zM683.3 238.8L685.6 234.6L681 234.6zM685.5 240.5L687.8 236.3L683.2 236.3zM687.7 238L690 233.8L685.4 233.8zM689.9 238L692.2 233.7L687.6 233.7zM692.1 239.1L694.4 234.8L689.8 234.8zM694.2 240.8L696.5 236.5L691.9 236.5zM696.4 242L698.7 237.7L694.1 237.7zM698.6 243.7L700.9 239.4L696.3 239.4zM700.8 244.6L703.1 240.3L698.5 240.3zM703 245.7L705.3 241.4L700.7 241.4zM705.1 247.3L707.4 243L702.8 243zM707.3 247.3L709.6 243L705 243zM709.5 244.3L711.8 240.1L707.2 240.1zM711.7 248.2L714 243.9L709.4 243.9zM713.9 250.2L716.2 245.9L711.6 245.9zM716 250L718.3 245.8L713.7 245.8zM718.2 253.6L720.5 249.4L715.9 249.4zM720.4 252.2L722.7 247.9L718.1 247.9zM722.6 252L724.9 247.7L720.3 247.7zM724.8 257.2L727.1 252.9L722.5 252.9zM726.9 256.4L729.2 252.1L724.6 252.1zM729.1 256.2L731.4 251.9L726.8 251.9zM731.3 258L733.6 253.8L729 253.8zM733.5 258.7L735.8 254.4L731.2 254.4z" fill="#f0f"/>
</g>
<g stroke="#000" stroke-width="1.3" fill="none">
<path d="M543.6 602.3H946.2M591 602.3v-6.8M650.1 602.3v-6.8M709.3 602.3v-6.8M768.5 602.3v-6.8M827.6 602.3v-6.8M886.8 602.3v-6.8M945.9 602.3v-6.8M620.6 602.3v-4M679.8 602.3v-4M738.9 602.3v-4M798 602.3v-4M857.2 602.3v-4M916.4 602.3v-4"/>
</g>
<clipPath id="ic"><rect x="540" y="250" width="410" height="352.3"/></clipPath>
<g id="inset" clip-path="url(#ic)">
<polyline points="560.5,602 564,591.7 567.6,583.5 571.1,575.1 574.7,566.9 578.2,559.8 581.8,553.4 585.3,546.5 588.9,541.9 592.4,541.4 596,538.6 599.5,536.1 603.1,533.3 606.6,529.6 610.2,525.4 613.7,521.6 617.3,515.5 620.8,508.5 624.4,500.9 627.9,491.9 631.5,480.8 635,469.4 638.6,458.8 642.1,448.2 645.7,434.5 649.2,420.8 652.8,406.3 656.3,395.7 659.9,386.6 663.4,376.1 667,366.4 670.5,358.8 674.1,352.6 677.6,348.2 681.2,344.4 684.7,338.2 688.3,331.9 691.8,328 695.4,325.7 698.9,323.8 702.5,321.3 706,314.3 709.6,306.4 713.1,301.6 716.7,301 720.2,302.3 723.8,299.2 727.3,298 730.9,298 734.4,298 738,298.3 741.5,302.8 745.1,301.8 748.6,306.9 752.2,311.4 755.7,314 759.3,318.2 762.8,321.5 766.4,326.4 769.9,330.2 773.5,335.5 777,340.9 780.6,345.1 784.1,349.5 787.7,352.7 791.2,358.5 794.8,365 798.3,365.8 801.9,367 805.4,368 809,371.2 812.5,374.5 816.1,379.3 819.6,382.8 823.2,385.7 826.7,387.1 830.3,388.8 833.8,389.4 837.4,389.5 840.9,390.8 844.5,392.1 848,394.7 851.6,397.4 855.1,398.6 858.7,399.6 862.2,399.3 865.8,398.4 869.3,398.9 872.9,397.6 876.4,397.5 880,397.2 883.5,397.2 887.1,397.3 890.6,397.8 894.2,398.1 897.7,398.6 901.3,399.8 904.8,400.3 908.4,400.9 911.9,401.7 915.5,402.7 919,403 922.6,403.9 926.1,404.6 929.7,406.1 933.2,407.2 936.8,408.8 940.3,408.7 943.9,410.3" fill="none" stroke="#000" stroke-width="0.9" stroke-linejoin="round"/>
<path d="M559.4 600.9h2.3v2.3h-2.3zM562.9 590.6h2.3v2.3h-2.3zM566.4 582.3h2.3v2.3h-2.3zM570 573.9h2.3v2.3h-2.3zM573.5 565.7h2.3v2.3h-2.3zM577.1 558.6h2.3v2.3h-2.3zM580.6 552.2h2.3v2.3h-2.3zM584.2 545.4h2.3v2.3h-2.3zM587.7 540.8h2.3v2.3h-2.3zM591.3 540.3h2.3v2.3h-2.3zM594.8 537.5h2.3v2.3h-2.3zM598.4 534.9h2.3v2.3h-2.3zM601.9 532.2h2.3v2.3h-2.3zM605.5 528.4h2.3v2.3h-2.3zM609 524.2h2.3v2.3h-2.3zM612.6 520.5h2.3v2.3h-2.3zM616.1 514.4h2.3v2.3h-2.3zM619.7 507.3h2.3v2.3h-2.3zM623.2 499.8h2.3v2.3h-2.3zM626.8 490.7h2.3v2.3h-2.3zM630.3 479.6h2.3v2.3h-2.3zM633.9 468.3h2.3v2.3h-2.3zM637.4 457.6h2.3v2.3h-2.3zM641 447.1h2.3v2.3h-2.3zM644.5 433.3h2.3v2.3h-2.3zM648.1 419.7h2.3v2.3h-2.3zM651.6 405.1h2.3v2.3h-2.3zM655.2 394.6h2.3v2.3h-2.3zM658.7 385.4h2.3v2.3h-2.3zM662.3 374.9h2.3v2.3h-2.3zM665.8 365.2h2.3v2.3h-2.3zM669.4 357.6h2.3v2.3h-2.3zM672.9 351.5h2.3v2.3h-2.3zM676.5 347h2.3v2.3h-2.3zM680 343.3h2.3v2.3h-2.3zM683.6 337h2.3v2.3h-2.3zM687.1 330.7h2.3v2.3h-2.3zM690.7 326.9h2.3v2.3h-2.3zM694.2 324.6h2.3v2.3h-2.3zM697.8 322.7h2.3v2.3h-2.3zM701.3 320.1h2.3v2.3h-2.3zM704.9 313.1h2.3v2.3h-2.3zM708.4 305.2h2.3v2.3h-2.3zM712 300.5h2.3v2.3h-2.3zM715.5 299.9h2.3v2.3h-2.3zM719.1 301.2h2.3v2.3h-2.3zM722.6 298.1h2.3v2.3h-2.3zM726.2 296.8h2.3v2.3h-2.3zM729.7 296.9h2.3v2.3h-2.3zM733.3 296.9h2.3v2.3h-2.3zM736.8 297.1h2.3v2.3h-2.3zM740.4 301.7h2.3v2.3h-2.3zM743.9 300.7h2.3v2.3h-2.3zM747.5 305.7h2.3v2.3h-2.3zM751 310.3h2.3v2.3h-2.3zM754.6 312.8h2.3v2.3h-2.3zM758.1 317h2.3v2.3h-2.3zM761.7 320.4h2.3v2.3h-2.3zM765.2 325.3h2.3v2.3h-2.3zM768.8 329.1h2.3v2.3h-2.3zM772.3 334.3h2.3v2.3h-2.3zM775.9 339.7h2.3v2.3h-2.3zM779.4 343.9h2.3v2.3h-2.3zM783 348.3h2.3v2.3h-2.3zM786.5 351.6h2.3v2.3h-2.3zM790.1 357.3h2.3v2.3h-2.3zM793.6 363.8h2.3v2.3h-2.3zM797.2 364.7h2.3v2.3h-2.3zM800.7 365.9h2.3v2.3h-2.3zM804.3 366.9h2.3v2.3h-2.3zM807.8 370h2.3v2.3h-2.3zM811.4 373.3h2.3v2.3h-2.3zM814.9 378.1h2.3v2.3h-2.3zM818.5 381.7h2.3v2.3h-2.3zM822 384.6h2.3v2.3h-2.3zM825.6 385.9h2.3v2.3h-2.3zM829.1 387.6h2.3v2.3h-2.3zM832.7 388.2h2.3v2.3h-2.3zM836.2 388.4h2.3v2.3h-2.3zM839.8 389.7h2.3v2.3h-2.3zM843.3 391h2.3v2.3h-2.3zM846.9 393.6h2.3v2.3h-2.3zM850.4 396.3h2.3v2.3h-2.3zM854 397.4h2.3v2.3h-2.3zM857.5 398.5h2.3v2.3h-2.3zM861.1 398.1h2.3v2.3h-2.3zM864.6 397.3h2.3v2.3h-2.3zM868.2 397.7h2.3v2.3h-2.3zM871.7 396.4h2.3v2.3h-2.3zM875.3 396.3h2.3v2.3h-2.3zM878.8 396h2.3v2.3h-2.3zM882.4 396.1h2.3v2.3h-2.3zM885.9 396.1h2.3v2.3h-2.3zM889.5 396.6h2.3v2.3h-2.3zM893 396.9h2.3v2.3h-2.3zM896.6 397.5h2.3v2.3h-2.3zM900.1 398.6h2.3v2.3h-2.3zM903.7 399.1h2.3v2.3h-2.3zM907.2 399.7h2.3v2.3h-2.3zM910.8 400.5h2.3v2.3h-2.3zM914.3 401.6h2.3v2.3h-2.3zM917.9 401.8h2.3v2.3h-2.3zM921.4 402.7h2.3v2.3h-2.3zM925 403.4h2.3v2.3h-2.3zM928.5 405h2.3v2.3h-2.3zM932.1 406h2.3v2.3h-2.3zM935.6 407.7h2.3v2.3h-2.3zM939.2 407.6h2.3v2.3h-2.3zM942.7 409.1h2.3v2.3h-2.3z" fill="#000"/>
<polyline points="557.6,599.8 561.1,589.4 564.7,581.5 568.2,576.5 571.8,569.5 575.3,560.5 578.9,552.8 582.4,548.1 586,543.4 589.5,537.8 593.1,532.9 596.6,529.1 600.2,525.6 603.7,521.5 607.3,517.3 610.8,512.2 614.4,505.8 617.9,499.2 621.5,489.8 625,479.4 628.6,468.9 632.1,459.5 635.7,450.2 639.2,433.9 642.8,417.1 646.3,408.1 649.9,395.1 653.4,382.3 657,370.8 660.5,361.6 664.1,352.3 667.6,342.4 671.2,334.5 674.7,326.5 678.3,319.9 681.8,317.2 685.4,312.9 688.9,310.5 692.5,306.6 696,303.9 699.6,300.4 703.1,297.3 706.7,293.8 710.2,290.8 713.8,288.7 717.3,286.1 720.9,284.8 724.4,284.5 728,284.2 731.5,284.8 735.1,285.5 738.6,288.3 742.2,290.8 745.7,292.8 749.3,296.3 752.8,301 756.4,305.8 759.9,308.9 763.5,311.1 767,316.1 770.6,321.6 774.1,327.2 777.7,332.3 781.2,336.4 784.8,342.6 788.3,348.1 791.9,353.7 795.4,358.3 799,362.7 802.5,365.7 806.1,366.8 809.6,367.7 813.2,370.2 816.7,374 820.3,377.1 823.8,377.9 827.4,378.5 830.9,379.6 834.5,380.1 838,381.3 841.6,382.8 845.1,385.8 848.7,385.6 852.2,385.2 855.8,384.9 859.3,386.2 862.9,387.5 866.4,387.6 870,388.5 873.5,389.2 877.1,391.8 880.6,393.1 884.2,390.6 887.7,392 891.3,393.7 894.8,392.9 898.4,394 901.9,393.4 905.5,393.6 909,397.9 912.6,398 916.1,397 919.7,397.7 923.2,399.4 926.8,401.9 930.3,402.8 933.9,404.3 937.4,405.9 941,406.9 944.5,408.2" fill="none" stroke="#f00" stroke-width="0.9" stroke-linejoin="round"/>
<path d="M556.3 599.8a1.3 1.3 0 1 0 2.6 0a1.3 1.3 0 1 0 -2.6 0zM559.8 589.4a1.3 1.3 0 1 0 2.6 0a1.3 1.3 0 1 0 -2.6 0zM563.4 581.5a1.3 1.3 0 1 0 2.6 0a1.3 1.3 0 1 0 -2.6 0zM566.9 576.5a1.3 1.3 0 1 0 2.6 0a1.3 1.3 0 1 0 -2.6 0zM570.5 569.5a1.3 1.3 0 1 0 2.6 0a1.3 1.3 0 1 0 -2.6 0zM574 560.5a1.3 1.3 0 1 0 2.6 0a1.3 1.3 0 1 0 -2.6 0zM577.6 552.8a1.3 1.3 0 1 0 2.6 0a1.3 1.3 0 1 0 -2.6 0zM581.1 548.1a1.3 1.3 0 1 0 2.6 0a1.3 1.3 0 1 0 -2.6 0zM584.7 543.4a1.3 1.3 0 1 0 2.6 0a1.3 1.3 0 1 0 -2.6 0zM588.2 537.8a1.3 1.3 0 1 0 2.6 0a1.3 1.3 0 1 0 -2.6 0zM591.8 532.9a1.3 1.3 0 1 0 2.6 0a1.3 1.3 0 1 0 -2.6 0zM595.3 529.1a1.3 1.3 0 1 0 2.6 0a1.3 1.3 0 1 0 -2.6 0zM598.9 525.6a1.3 1.3 0 1 0 2.6 0a1.3 1.3 0 1 0 -2.6 0zM602.4 521.5a1.3 1.3 0 1 0 2.6 0a1.3 1.3 0 1 0 -2.6 0zM606 517.3a1.3 1.3 0 1 0 2.6 0a1.3 1.3 0 1 0 -2.6 0zM609.5 512.2a1.3 1.3 0 1 0 2.6 0a1.3 1.3 0 1 0 -2.6 0zM613.1 505.8a1.3 1.3 0 1 0 2.6 0a1.3 1.3 0 1 0 -2.6 0zM616.6 499.2a1.3 1.3 0 1 0 2.6 0a1.3 1.3 0 1 0 -2.6 0zM620.2 489.8a1.3 1.3 0 1 0 2.6 0a1.3 1.3 0 1 0 -2.6 0zM623.7 479.4a1.3 1.3 0 1 0 2.6 0a1.3 1.3 0 1 0 -2.6 0zM627.3 468.9a1.3 1.3 0 1 0 2.6 0a1.3 1.3 0 1 0 -2.6 0zM630.8 459.5a1.3 1.3 0 1 0 2.6 0a1.3 1.3 0 1 0 -2.6 0zM634.4 450.2a1.3 1.3 0 1 0 2.6 0a1.3 1.3 0 1 0 -2.6 0zM637.9 433.9a1.3 1.3 0 1 0 2.6 0a1.3 1.3 0 1 0 -2.6 0zM641.5 417.1a1.3 1.3 0 1 0 2.6 0a1.3 1.3 0 1 0 -2.6 0zM645 408.1a1.3 1.3 0 1 0 2.6 0a1.3 1.3 0 1 0 -2.6 0zM648.6 395.1a1.3 1.3 0 1 0 2.6 0a1.3 1.3 0 1 0 -2.6 0zM652.1 382.3a1.3 1.3 0 1 0 2.6 0a1.3 1.3 0 1 0 -2.6 0zM655.7 370.8a1.3 1.3 0 1 0 2.6 0a1.3 1.3 0 1 0 -2.6 0zM659.2 361.6a1.3 1.3 0 1 0 2.6 0a1.3 1.3 0 1 0 -2.6 0zM662.8 352.3a1.3 1.3 0 1 0 2.6 0a1.3 1.3 0 1 0 -2.6 0zM666.3 342.4a1.3 1.3 0 1 0 2.6 0a1.3 1.3 0 1 0 -2.6 0zM669.9 334.5a1.3 1.3 0 1 0 2.6 0a1.3 1.3 0 1 0 -2.6 0zM673.4 326.5a1.3 1.3 0 1 0 2.6 0a1.3 1.3 0 1 0 -2.6 0zM677 319.9a1.3 1.3 0 1 0 2.6 0a1.3 1.3 0 1 0 -2.6 0zM680.5 317.2a1.3 1.3 0 1 0 2.6 0a1.3 1.3 0 1 0 -2.6 0zM684.1 312.9a1.3 1.3 0 1 0 2.6 0a1.3 1.3 0 1 0 -2.6 0zM687.6 310.5a1.3 1.3 0 1 0 2.6 0a1.3 1.3 0 1 0 -2.6 0zM691.2 306.6a1.3 1.3 0 1 0 2.6 0a1.3 1.3 0 1 0 -2.6 0zM694.7 303.9a1.3 1.3 0 1 0 2.6 0a1.3 1.3 0 1 0 -2.6 0zM698.3 300.4a1.3 1.3 0 1 0 2.6 0a1.3 1.3 0 1 0 -2.6 0zM701.8 297.3a1.3 1.3 0 1 0 2.6 0a1.3 1.3 0 1 0 -2.6 0zM705.4 293.8a1.3 1.3 0 1 0 2.6 0a1.3 1.3 0 1 0 -2.6 0zM708.9 290.8a1.3 1.3 0 1 0 2.6 0a1.3 1.3 0 1 0 -2.6 0zM712.5 288.7a1.3 1.3 0 1 0 2.6 0a1.3 1.3 0 1 0 -2.6 0zM716 286.1a1.3 1.3 0 1 0 2.6 0a1.3 1.3 0 1 0 -2.6 0zM719.6 284.8a1.3 1.3 0 1 0 2.6 0a1.3 1.3 0 1 0 -2.6 0zM723.1 284.5a1.3 1.3 0 1 0 2.6 0a1.3 1.3 0 1 0 -2.6 0zM726.7 284.2a1.3 1.3 0 1 0 2.6 0a1.3 1.3 0 1 0 -2.6 0zM730.2 284.8a1.3 1.3 0 1 0 2.6 0a1.3 1.3 0 1 0 -2.6 0zM733.8 285.5a1.3 1.3 0 1 0 2.6 0a1.3 1.3 0 1 0 -2.6 0zM737.3 288.3a1.3 1.3 0 1 0 2.6 0a1.3 1.3 0 1 0 -2.6 0zM740.9 290.8a1.3 1.3 0 1 0 2.6 0a1.3 1.3 0 1 0 -2.6 0zM744.4 292.8a1.3 1.3 0 1 0 2.6 0a1.3 1.3 0 1 0 -2.6 0zM748 296.3a1.3 1.3 0 1 0 2.6 0a1.3 1.3 0 1 0 -2.6 0zM751.5 301a1.3 1.3 0 1 0 2.6 0a1.3 1.3 0 1 0 -2.6 0zM755.1 305.8a1.3 1.3 0 1 0 2.6 0a1.3 1.3 0 1 0 -2.6 0zM758.6 308.9a1.3 1.3 0 1 0 2.6 0a1.3 1.3 0 1 0 -2.6 0zM762.2 311.1a1.3 1.3 0 1 0 2.6 0a1.3 1.3 0 1 0 -2.6 0zM765.7 316.1a1.3 1.3 0 1 0 2.6 0a1.3 1.3 0 1 0 -2.6 0zM769.3 321.6a1.3 1.3 0 1 0 2.6 0a1.3 1.3 0 1 0 -2.6 0zM772.8 327.2a1.3 1.3 0 1 0 2.6 0a1.3 1.3 0 1 0 -2.6 0zM776.4 332.3a1.3 1.3 0 1 0 2.6 0a1.3 1.3 0 1 0 -2.6 0zM779.9 336.4a1.3 1.3 0 1 0 2.6 0a1.3 1.3 0 1 0 -2.6 0zM783.5 342.6a1.3 1.3 0 1 0 2.6 0a1.3 1.3 0 1 0 -2.6 0zM787 348.1a1.3 1.3 0 1 0 2.6 0a1.3 1.3 0 1 0 -2.6 0zM790.6 353.7a1.3 1.3 0 1 0 2.6 0a1.3 1.3 0 1 0 -2.6 0zM794.1 358.3a1.3 1.3 0 1 0 2.6 0a1.3 1.3 0 1 0 -2.6 0zM797.7 362.7a1.3 1.3 0 1 0 2.6 0a1.3 1.3 0 1 0 -2.6 0zM801.2 365.7a1.3 1.3 0 1 0 2.6 0a1.3 1.3 0 1 0 -2.6 0zM804.8 366.8a1.3 1.3 0 1 0 2.6 0a1.3 1.3 0 1 0 -2.6 0zM808.3 367.7a1.3 1.3 0 1 0 2.6 0a1.3 1.3 0 1 0 -2.6 0zM811.9 370.2a1.3 1.3 0 1 0 2.6 0a1.3 1.3 0 1 0 -2.6 0zM815.4 374a1.3 1.3 0 1 0 2.6 0a1.3 1.3 0 1 0 -2.6 0zM819 377.1a1.3 1.3 0 1 0 2.6 0a1.3 1.3 0 1 0 -2.6 0zM822.5 377.9a1.3 1.3 0 1 0 2.6 0a1.3 1.3 0 1 0 -2.6 0zM826.1 378.5a1.3 1.3 0 1 0 2.6 0a1.3 1.3 0 1 0 -2.6 0zM829.6 379.6a1.3 1.3 0 1 0 2.6 0a1.3 1.3 0 1 0 -2.6 0zM833.2 380.1a1.3 1.3 0 1 0 2.6 0a1.3 1.3 0 1 0 -2.6 0zM836.7 381.3a1.3 1.3 0 1 0 2.6 0a1.3 1.3 0 1 0 -2.6 0zM840.3 382.8a1.3 1.3 0 1 0 2.6 0a1.3 1.3 0 1 0 -2.6 0zM843.8 385.8a1.3 1.3 0 1 0 2.6 0a1.3 1.3 0 1 0 -2.6 0zM847.4 385.6a1.3 1.3 0 1 0 2.6 0a1.3 1.3 0 1 0 -2.6 0zM850.9 385.2a1.3 1.3 0 1 0 2.6 0a1.3 1.3 0 1 0 -2.6 0zM854.5 384.9a1.3 1.3 0 1 0 2.6 0a1.3 1.3 0 1 0 -2.6 0zM858 386.2a1.3 1.3 0 1 0 2.6 0a1.3 1.3 0 1 0 -2.6 0zM861.6 387.5a1.3 1.3 0 1 0 2.6 0a1.3 1.3 0 1 0 -2.6 0zM865.1 387.6a1.3 1.3 0 1 0 2.6 0a1.3 1.3 0 1 0 -2.6 0zM868.7 388.5a1.3 1.3 0 1 0 2.6 0a1.3 1.3 0 1 0 -2.6 0zM872.2 389.2a1.3 1.3 0 1 0 2.6 0a1.3 1.3 0 1 0 -2.6 0zM875.8 391.8a1.3 1.3 0 1 0 2.6 0a1.3 1.3 0 1 0 -2.6 0zM879.3 393.1a1.3 1.3 0 1 0 2.6 0a1.3 1.3 0 1 0 -2.6 0zM882.9 390.6a1.3 1.3 0 1 0 2.6 0a1.3 1.3 0 1 0 -2.6 0zM886.4 392a1.3 1.3 0 1 0 2.6 0a1.3 1.3 0 1 0 -2.6 0zM890 393.7a1.3 1.3 0 1 0 2.6 0a1.3 1.3 0 1 0 -2.6 0zM893.5 392.9a1.3 1.3 0 1 0 2.6 0a1.3 1.3 0 1 0 -2.6 0zM897.1 394a1.3 1.3 0 1 0 2.6 0a1.3 1.3 0 1 0 -2.6 0zM900.6 393.4a1.3 1.3 0 1 0 2.6 0a1.3 1.3 0 1 0 -2.6 0zM904.2 393.6a1.3 1.3 0 1 0 2.6 0a1.3 1.3 0 1 0 -2.6 0zM907.7 397.9a1.3 1.3 0 1 0 2.6 0a1.3 1.3 0 1 0 -2.6 0zM911.3 398a1.3 1.3 0 1 0 2.6 0a1.3 1.3 0 1 0 -2.6 0zM914.8 397a1.3 1.3 0 1 0 2.6 0a1.3 1.3 0 1 0 -2.6 0zM918.4 397.7a1.3 1.3 0 1 0 2.6 0a1.3 1.3 0 1 0 -2.6 0zM921.9 399.4a1.3 1.3 0 1 0 2.6 0a1.3 1.3 0 1 0 -2.6 0zM925.5 401.9a1.3 1.3 0 1 0 2.6 0a1.3 1.3 0 1 0 -2.6 0zM929 402.8a1.3 1.3 0 1 0 2.6 0a1.3 1.3 0 1 0 -2.6 0zM932.6 404.3a1.3 1.3 0 1 0 2.6 0a1.3 1.3 0 1 0 -2.6 0zM936.1 405.9a1.3 1.3 0 1 0 2.6 0a1.3 1.3 0 1 0 -2.6 0zM939.7 406.9a1.3 1.3 0 1 0 2.6 0a1.3 1.3 0 1 0 -2.6 0zM943.2 408.2a1.3 1.3 0 1 0 2.6 0a1.3 1.3 0 1 0 -2.6 0z" fill="#f00"/>
<polyline points="563.7,597.7 567.2,589.6 570.8,580.4 574.3,572.9 577.9,563.5 581.4,554.7 585,548.6 588.5,542.8 592.1,539.4 595.6,536.1 599.2,532.8 602.7,529.6 606.3,525.7 609.8,521.4 613.4,516.9 616.9,511.1 620.5,503.9 624,496.3 627.6,489.3 631.1,481 634.7,471.1 638.2,460.5 641.8,448.7 645.3,435.9 648.9,421.4 652.4,404.9 656,390.2 659.5,378.8 663.1,368.9 666.6,359.4 670.2,350.8 673.7,342 677.3,333.9 680.8,326.2 684.4,320.8 687.9,314.7 691.5,310.1 695,305.1 698.6,301.2 702.1,297.1 705.7,294.9 709.2,293.4 712.8,289.1 716.3,285.6 719.9,281.4 723.4,277.8 727,275.7 730.5,276.1 734.1,276.7 737.6,278.8 741.2,280.8 744.7,283.9 748.3,287.8 751.8,292.5 755.4,297.6 758.9,303.4 762.5,307.8 766,313.9 769.6,318.1 773.1,322.2 776.7,325.9 780.2,330 783.8,334.3 787.3,338.5 790.9,342.3 794.4,347.9 798,353.5 801.5,356.8 805.1,362.6 808.6,367.1 812.2,371.4 815.7,375.7 819.3,378.1 822.8,381.6 826.4,384.8 829.9,386.7 833.5,388.8 837,391 840.6,392.4 844.1,394.5 847.7,394.8 851.2,396.5 854.8,396.5 858.3,398 861.9,398.3 865.4,397.4 869,398.1 872.5,397.3 876.1,397.1 879.6,397.8 883.2,397.1 886.7,397.5 890.3,398.8 893.8,398.7 897.4,399.6 900.9,399.5 904.5,399.5 908,400.3 911.6,401.3 915.1,401.8 918.7,402.1 922.2,402.8 925.8,403.5 929.3,404.2 932.9,406.2 936.4,406.7 940,407.3 943.5,408.4" fill="none" stroke="#00f" stroke-width="0.9" stroke-linejoin="round"/>
<path d="M563.7 595.9L565.2 598.8L562.2 598.8zM567.2 587.8L568.8 590.7L565.7 590.7zM570.8 578.6L572.3 581.5L569.2 581.5zM574.3 571.2L575.9 574L572.8 574zM577.9 561.7L579.4 564.5L576.3 564.5zM581.4 552.9L583 555.8L579.9 555.8zM585 546.9L586.5 549.7L583.4 549.7zM588.5 541L590.1 543.9L587 543.9zM592.1 537.6L593.6 540.5L590.5 540.5zM595.6 534.3L597.2 537.2L594.1 537.2zM599.2 531.1L600.7 533.9L597.6 533.9zM602.7 527.8L604.3 530.7L601.2 530.7zM606.3 523.9L607.8 526.8L604.7 526.8zM609.8 519.6L611.4 522.5L608.3 522.5zM613.4 515.1L614.9 518L611.8 518zM616.9 509.4L618.5 512.2L615.4 512.2zM620.5 502.1L622 504.9L618.9 504.9zM624 494.5L625.6 497.3L622.5 497.3zM627.6 487.6L629.1 490.4L626 490.4zM631.1 479.2L632.7 482.1L629.6 482.1zM634.7 469.3L636.2 472.2L633.1 472.2zM638.2 458.8L639.8 461.6L636.7 461.6zM641.8 446.9L643.3 449.8L640.2 449.8zM645.3 434.1L646.9 437L643.8 437zM648.9 419.7L650.4 422.5L647.3 422.5zM652.4 403.1L654 406L650.9 406zM656 388.4L657.5 391.3L654.4 391.3zM659.5 377L661.1 379.9L658 379.9zM663.1 367.2L664.6 370L661.5 370zM666.6 357.6L668.2 360.5L665.1 360.5zM670.2 349L671.7 351.9L668.6 351.9zM673.7 340.2L675.3 343.1L672.2 343.1zM677.3 332.2L678.8 335L675.7 335zM680.8 324.4L682.4 327.2L679.3 327.2zM684.4 319L685.9 321.9L682.8 321.9zM687.9 312.9L689.5 315.8L686.4 315.8zM691.5 308.3L693 311.1L689.9 311.1zM695 303.3L696.6 306.2L693.5 306.2zM698.6 299.4L700.1 302.3L697 302.3zM702.1 295.3L703.7 298.2L700.6 298.2zM705.7 293.1L707.2 296L704.1 296zM709.2 291.6L710.8 294.4L707.7 294.4zM712.8 287.3L714.3 290.2L711.2 290.2zM716.3 283.8L717.9 286.6L714.8 286.6zM719.9 279.7L721.4 282.5L718.3 282.5zM723.4 276L725 278.8L721.9 278.8zM727 273.9L728.5 276.8L725.4 276.8zM730.5 274.4L732.1 277.2L729 277.2zM734.1 274.9L735.6 277.8L732.5 277.8zM737.6 277L739.2 279.9L736.1 279.9zM741.2 279L742.7 281.9L739.6 281.9zM744.7 282.1L746.3 285L743.2 285zM748.3 286L749.8 288.9L746.7 288.9zM751.8 290.7L753.4 293.5L750.3 293.5zM755.4 295.9L756.9 298.7L753.8 298.7zM758.9 301.6L760.5 304.4L757.4 304.4zM762.5 306.1L764 308.9L760.9 308.9zM766 312.1L767.6 315L764.5 315zM769.6 316.4L771.1 319.2L768 319.2zM773.1 320.4L774.7 323.3L771.6 323.3zM776.7 324.1L778.2 326.9L775.1 326.9zM780.2 328.3L781.8 331.1L778.7 331.1zM783.8 332.5L785.3 335.4L782.2 335.4zM787.3 336.7L788.9 339.6L785.8 339.6zM790.9 340.5L792.4 343.4L789.3 343.4zM794.4 346.1L796 349L792.9 349zM798 351.7L799.5 354.6L796.4 354.6zM801.5 355L803.1 357.9L800 357.9zM805.1 360.8L806.6 363.7L803.5 363.7zM808.6 365.3L810.2 368.2L807.1 368.2zM812.2 369.6L813.7 372.5L810.6 372.5zM815.7 374L817.3 376.8L814.2 376.8zM819.3 376.3L820.8 379.2L817.7 379.2zM822.8 379.8L824.4 382.7L821.3 382.7zM826.4 383L827.9 385.9L824.8 385.9zM829.9 384.9L831.5 387.7L828.4 387.7zM833.5 387.1L835 389.9L831.9 389.9zM837 389.2L838.6 392.1L835.5 392.1zM840.6 390.7L842.1 393.5L839 393.5zM844.1 392.8L845.7 395.6L842.6 395.6zM847.7 393.1L849.2 395.9L846.1 395.9zM851.2 394.7L852.8 397.5L849.7 397.5zM854.8 394.8L856.3 397.6L853.2 397.6zM858.3 396.3L859.9 399.1L856.8 399.1zM861.9 396.5L863.4 399.4L860.3 399.4zM865.4 395.7L867 398.5L863.9 398.5zM869 396.3L870.5 399.2L867.4 399.2zM872.5 395.5L874.1 398.4L871 398.4zM876.1 395.4L877.6 398.2L874.5 398.2zM879.6 396L881.2 398.9L878.1 398.9zM883.2 395.3L884.7 398.1L881.6 398.1zM886.7 395.7L888.3 398.6L885.2 398.6zM890.3 397.1L891.8 399.9L888.7 399.9zM893.8 396.9L895.4 399.8L892.3 399.8zM897.4 397.8L898.9 400.7L895.8 400.7zM900.9 397.8L902.5 400.6L899.4 400.6zM904.5 397.8L906 400.6L902.9 400.6zM908 398.5L909.6 401.4L906.5 401.4zM911.6 399.6L913.1 402.4L910 402.4zM915.1 400.1L916.7 402.9L913.6 402.9zM918.7 400.4L920.2 403.2L917.1 403.2zM922.2 401.1L923.8 403.9L920.7 403.9zM925.8 401.8L927.3 404.6L924.2 404.6zM929.3 402.5L930.9 405.3L927.8 405.3zM932.9 404.5L934.4 407.3L931.3 407.3zM936.4 404.9L938 407.8L934.9 407.8zM940 405.5L941.5 408.3L938.4 408.3zM943.5 406.6L945.1 409.5L942 409.5z" fill="#00f"/>
<polyline points="562.2,596.1 565.7,587.4 569.3,578.6 572.8,570.1 576.4,562.6 579.9,554.8 583.5,548.7 587,544.2 590.6,538.8 594.1,534.4 597.7,530.2 601.2,525.8 604.8,521.9 608.3,519.3 611.9,514.8 615.4,509.6 619,504 622.5,496.4 626.1,487.5 629.6,479.1 633.2,470.2 636.7,459.9 640.3,449.1 643.8,436 647.4,422 650.9,407.2 654.5,394.4 658,381.9 661.6,370 665.1,358.4 668.7,349.6 672.2,340.7 675.8,333.8 679.3,327.9 682.9,321.3 686.4,316 690,311.4 693.5,305.5 697.1,300.2 700.6,295.3 704.2,290.8 707.7,285 711.3,281 714.8,276.8 718.4,273.8 721.9,271.3 725.5,270.4 729,270.8 732.6,270.4 736.1,271.2 739.7,273 743.2,274.9 746.8,279.1 750.3,284.5 753.9,289 757.4,294.2 761,299.8 764.5,304.9 768.1,310.5 771.6,315.5 775.2,319.6 778.7,324.6 782.3,329.8 785.8,334 789.4,339 792.9,343.3 796.5,347.7 800,352.1 803.6,357.9 807.1,362 810.7,366.6 814.2,370.7 817.8,374.7 821.3,378.5 824.9,381.6 828.4,385.2 832,387.1 835.5,389.9 839.1,391.4 842.6,393 846.2,393.6 849.7,395.2 853.3,396.1 856.8,396.9 860.4,396.9 863.9,398.2 867.5,397.6 871,397.2 874.6,396.8 878.1,396.6 881.7,397 885.2,396.7 888.8,397.3 892.3,398.1 895.9,398.4 899.4,398.6 903,399 906.5,399.3 910.1,400.1 913.6,401.2 917.2,401 920.7,402.6 924.3,403 927.8,403.4 931.4,404.8 934.9,405.2 938.5,406.2 942,407.3" fill="none" stroke="#f0f" stroke-width="0.9" stroke-linejoin="round"/>
<path d="M562.2 598L563.8 595L560.6 595zM565.7 589.2L567.3 586.3L564.1 586.3zM569.3 580.5L570.9 577.5L567.7 577.5zM572.8 571.9L574.4 569L571.2 569zM576.4 564.4L578 561.5L574.8 561.5zM579.9 556.6L581.5 553.6L578.3 553.6zM583.5 550.5L585.1 547.6L581.9 547.6zM587 546L588.6 543.1L585.4 543.1zM590.6 540.6L592.2 537.6L589 537.6zM594.1 536.2L595.7 533.2L592.5 533.2zM597.7 532.1L599.3 529.1L596.1 529.1zM601.2 527.7L602.8 524.7L599.6 524.7zM604.8 523.7L606.4 520.8L603.2 520.8zM608.3 521.2L609.9 518.2L606.7 518.2zM611.9 516.6L613.5 513.7L610.3 513.7zM615.4 511.5L617 508.5L613.8 508.5zM619 505.8L620.6 502.9L617.4 502.9zM622.5 498.2L624.1 495.3L620.9 495.3zM626.1 489.4L627.7 486.4L624.5 486.4zM629.6 481L631.2 478L628 478zM633.2 472.1L634.8 469.1L631.6 469.1zM636.7 461.8L638.3 458.8L635.1 458.8zM640.3 450.9L641.9 448L638.7 448zM643.8 437.8L645.4 434.8L642.2 434.8zM647.4 423.8L649 420.8L645.8 420.8zM650.9 409L652.5 406.1L649.3 406.1zM654.5 396.2L656.1 393.3L652.9 393.3zM658 383.8L659.6 380.8L656.4 380.8zM661.6 371.8L663.2 368.9L660 368.9zM665.1 360.2L666.7 357.3L663.5 357.3zM668.7 351.4L670.3 348.5L667.1 348.5zM672.2 342.5L673.8 339.6L670.6 339.6zM675.8 335.7L677.4 332.7L674.2 332.7zM679.3 329.8L680.9 326.8L677.7 326.8zM682.9 323.1L684.5 320.2L681.3 320.2zM686.4 317.8L688 314.9L684.8 314.9zM690 313.2L691.6 310.3L688.4 310.3zM693.5 307.3L695.1 304.4L691.9 304.4zM697.1 302L698.7 299.1L695.5 299.1zM700.6 297.1L702.2 294.2L699 294.2zM704.2 292.6L705.8 289.7L702.6 289.7zM707.7 286.9L709.3 283.9L706.1 283.9zM711.3 282.8L712.9 279.9L709.7 279.9zM714.8 278.7L716.4 275.7L713.2 275.7zM718.4 275.6L720 272.7L716.8 272.7zM721.9 273.1L723.5 270.2L720.3 270.2zM725.5 272.2L727.1 269.3L723.9 269.3zM729 272.6L730.6 269.7L727.4 269.7zM732.6 272.2L734.2 269.3L731 269.3zM736.1 273L737.7 270.1L734.5 270.1zM739.7 274.8L741.3 271.9L738.1 271.9zM743.2 276.8L744.8 273.8L741.6 273.8zM746.8 281L748.4 278L745.2 278zM750.3 286.3L751.9 283.4L748.7 283.4zM753.9 290.9L755.5 287.9L752.3 287.9zM757.4 296L759 293.1L755.8 293.1zM761 301.6L762.6 298.7L759.4 298.7zM764.5 306.7L766.1 303.8L762.9 303.8zM768.1 312.3L769.7 309.4L766.5 309.4zM771.6 317.4L773.2 314.4L770 314.4zM775.2 321.5L776.8 318.5L773.6 318.5zM778.7 326.4L780.3 323.4L777.1 323.4zM782.3 331.6L783.9 328.7L780.7 328.7zM785.8 335.8L787.4 332.8L784.2 332.8zM789.4 340.9L791 337.9L787.8 337.9zM792.9 345.2L794.5 342.2L791.3 342.2zM796.5 349.5L798.1 346.6L794.9 346.6zM800 353.9L801.6 350.9L798.4 350.9zM803.6 359.7L805.2 356.8L802 356.8zM807.1 363.9L808.7 360.9L805.5 360.9zM810.7 368.4L812.3 365.4L809.1 365.4zM814.2 372.6L815.8 369.6L812.6 369.6zM817.8 376.6L819.4 373.6L816.2 373.6zM821.3 380.4L822.9 377.4L819.7 377.4zM824.9 383.5L826.5 380.5L823.3 380.5zM828.4 387L830 384.1L826.8 384.1zM832 388.9L833.6 386L830.4 386zM835.5 391.7L837.1 388.7L833.9 388.7zM839.1 393.2L840.7 390.2L837.5 390.2zM842.6 394.9L844.2 391.9L841 391.9zM846.2 395.5L847.8 392.5L844.6 392.5zM849.7 397L851.3 394.1L848.1 394.1zM853.3 398L854.9 395L851.7 395zM856.8 398.7L858.4 395.8L855.2 395.8zM860.4 398.7L862 395.8L858.8 395.8zM863.9 400L865.5 397.1L862.3 397.1zM867.5 399.4L869.1 396.5L865.9 396.5zM871 399L872.6 396.1L869.4 396.1zM874.6 398.7L876.2 395.7L873 395.7zM878.1 398.5L879.7 395.5L876.5 395.5zM881.7 398.8L883.3 395.8L880.1 395.8zM885.2 398.6L886.8 395.6L883.6 395.6zM888.8 399.2L890.4 396.2L887.2 396.2zM892.3 400L893.9 397L890.7 397zM895.9 400.3L897.5 397.3L894.3 397.3zM899.4 400.5L901 397.5L897.8 397.5zM903 400.8L904.6 397.8L901.4 397.8zM906.5 401.2L908.1 398.2L904.9 398.2zM910.1 402L911.7 399L908.5 399zM913.6 403L915.2 400L912 400zM917.2 402.8L918.8 399.9L915.6 399.9zM920.7 404.4L922.3 401.4L919.1 401.4zM924.3 404.9L925.9 401.9L922.7 401.9zM927.8 405.2L929.4 402.3L926.2 402.3zM931.4 406.7L933 403.7L929.8 403.7zM934.9 407L936.5 404.1L933.3 404.1zM938.5 408L940.1 405L936.9 405zM942 409.1L943.6 406.1L940.4 406.1z" fill="#f0f"/>
</g>
<path d="M364.9 151.8L364.9 175.8" stroke="#000" stroke-width="3.2" fill="none"/><path d="M364.9 191.4L360.1 175.8L364.9 175.8L369.7 175.8z" fill="#000"/>
<path d="M448.1 388.5L586 425.6" stroke="#000" stroke-width="2.6" fill="none" stroke-linecap="round" stroke-dasharray="11.3 15.6"/>
<path d="M583 424.8L587.5 426" stroke="#000" stroke-width="2.4" fill="none"/><path d="M597 428.6L582.5 428.6L587.5 426L584.5 421.3z" fill="#000" stroke="#000" stroke-width="1.6" stroke-linejoin="round"/>
<path d="M848.5 233L754.9 270.9" stroke="#111" stroke-width="1.0" fill="none"/><path d="M745.6 274.6L754 268.7L754.9 270.9L755.7 273z" fill="#111"/>
<path d="M847.5 291.8L747.2 288.2" stroke="#111" stroke-width="1.0" fill="none"/><path d="M737.2 287.8L747.3 285.9L747.2 288.2L747.1 290.5z" fill="#111"/>
<path d="M837.5 334.4L742.9 281.2" stroke="#111" stroke-width="1.0" fill="none"/><path d="M734.2 276.3L744 279.2L742.9 281.2L741.8 283.2z" fill="#111"/>
<path d="M833 441.2L733.4 313.7" stroke="#111" stroke-width="1.0" fill="none"/><path d="M727.2 305.8L735.2 312.3L733.4 313.7L731.5 315.1z" fill="#111"/>
<text transform="translate(450.5 33.3) scale(1.003 1.03)" font-size="29" text-anchor="start" word-spacing="1.7">Cu <tspan dx="0.5">K-edge </tspan><tspan dx="2.8">NEXAFS </tspan><tspan dx="-1.5">Spectra </tspan><tspan dx="1.2">for</tspan></text>
<text transform="translate(450.1 70.4) scale(1.022 1.03)" font-size="29" text-anchor="start">Cu(0.5%)-ZnO</text>
<text transform="translate(88.8 682.1) scale(1.0 1.05)" font-size="31.5" text-anchor="middle">8970</text>
<text transform="translate(197.5 682.1) scale(1.0 1.05)" font-size="31.5" text-anchor="middle">8985</text>
<text transform="translate(306.3 682.1) scale(1.0 1.05)" font-size="31.5" text-anchor="middle">9000</text>
<text transform="translate(415.1 682.1) scale(1.0 1.05)" font-size="31.5" text-anchor="middle">9015</text>
<text transform="translate(523.8 682.1) scale(1.0 1.05)" font-size="31.5" text-anchor="middle">9030</text>
<text transform="translate(632.6 682.1) scale(1.0 1.05)" font-size="31.5" text-anchor="middle">9045</text>
<text transform="translate(741.4 682.1) scale(1.0 1.05)" font-size="31.5" text-anchor="middle">9060</text>
<text transform="translate(451.9 720.1) scale(1.008 1)" font-size="29.5" text-anchor="middle">Photon energy (eV)</text>
<text transform="translate(24.9 344.85) rotate(-90) scale(1 1.05)" font-size="30.5" text-anchor="middle">Intensity (arb units)</text>
<text transform="translate(586.7 625.8) scale(1.03 1.06)" font-size="21" text-anchor="middle">8985</text>
<text transform="translate(645.9 625.8) scale(1.03 1.06)" font-size="21" text-anchor="middle">8990</text>
<text transform="translate(705 625.8) scale(1.03 1.06)" font-size="21" text-anchor="middle">8995</text>
<text transform="translate(764.2 625.8) scale(1.03 1.06)" font-size="21" text-anchor="middle">9000</text>
<text transform="translate(823.3 625.8) scale(1.03 1.06)" font-size="21" text-anchor="middle">9005</text>
<text transform="translate(882.5 625.8) scale(1.03 1.06)" font-size="21" text-anchor="middle">9010</text>
<text transform="translate(941.6 625.8) scale(1.03 1.06)" font-size="21" text-anchor="middle">9015</text>
<text transform="translate(853.3 233.7) scale(1.033 1)" font-size="29" text-anchor="start">Al(5)</text>
<text transform="translate(851.5 287.5) scale(1.033 1)" font-size="29" text-anchor="start">Al(3)</text>
<text transform="translate(840.4 343.2) scale(1.033 1)" font-size="29" text-anchor="start">Al(0.5)</text>
<text transform="translate(848.2 454.2) scale(1.033 1)" font-size="29" text-anchor="start">Al(0.0)</text>
</svg>
</body></html>
